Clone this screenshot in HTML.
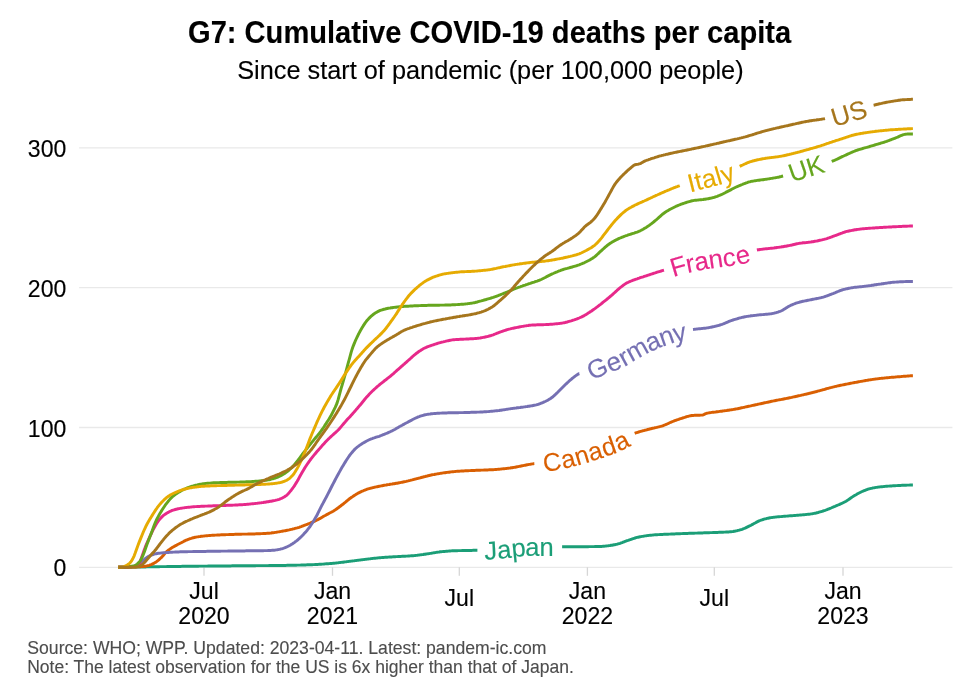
<!DOCTYPE html>
<html><head><meta charset="utf-8"><title>G7: Cumulative COVID-19 deaths per capita</title>
<style>html,body{margin:0;padding:0;background:#fff}body{width:980px;height:700px;position:relative;overflow:hidden;font-family:"Liberation Sans",sans-serif}</style></head>
<body>
<svg width="980" height="700" viewBox="0 0 980 700" style="position:absolute;left:0;top:0;will-change:transform;font-family:'Liberation Sans',sans-serif">
<rect width="980" height="700" fill="#fff"/>
<line x1="79.1" x2="952.4" y1="567.3" y2="567.3" stroke="#e9e9e9" stroke-width="1.3"/>
<line x1="79.1" x2="952.4" y1="427.5" y2="427.5" stroke="#e9e9e9" stroke-width="1.3"/>
<line x1="79.1" x2="952.4" y1="287.7" y2="287.7" stroke="#e9e9e9" stroke-width="1.3"/>
<line x1="79.1" x2="952.4" y1="147.9" y2="147.9" stroke="#e9e9e9" stroke-width="1.3"/>
<line x1="204" x2="204" y1="567.3" y2="575.8" stroke="#d6d6d6" stroke-width="1.3"/>
<line x1="332.5" x2="332.5" y1="567.3" y2="575.8" stroke="#d6d6d6" stroke-width="1.3"/>
<line x1="459.3" x2="459.3" y1="567.3" y2="575.8" stroke="#d6d6d6" stroke-width="1.3"/>
<line x1="587.4" x2="587.4" y1="567.3" y2="575.8" stroke="#d6d6d6" stroke-width="1.3"/>
<line x1="714.3" x2="714.3" y1="567.3" y2="575.8" stroke="#d6d6d6" stroke-width="1.3"/>
<line x1="843" x2="843" y1="567.3" y2="575.8" stroke="#d6d6d6" stroke-width="1.3"/>
<path d="M118.2 567.3 L119.2 567.3 L120.2 567.3 L121.2 567.2 L122.2 567.2 L123.2 567.2 L124.2 567.2 L125.2 567.2 L126.2 567.2 L127.2 567.1 L128.2 567.1 L129.2 567.1 L130.2 567.1 L131.2 567.1 L132.2 567.1 L133.2 567.1 L134.2 567 L135.2 567 L136.2 567 L137.2 567 L138.2 567 L139.2 567 L140.2 566.9 L141.2 566.9 L142.2 566.9 L143.2 566.9 L144.2 566.9 L145.2 566.9 L146.2 566.9 L147.2 566.8 L148.2 566.8 L149.2 566.8 L150.2 566.8 L151.2 566.8 L152.2 566.8 L153.2 566.7 L154.2 566.7 L155.2 566.7 L156.2 566.7 L157.2 566.7 L158.2 566.7 L159.2 566.7 L160.2 566.6 L161.2 566.6 L162.2 566.6 L163.2 566.6 L164.2 566.6 L165.2 566.6 L166.2 566.6 L167.2 566.5 L168.2 566.5 L169.2 566.5 L170.2 566.5 L171.2 566.5 L172.2 566.5 L173.2 566.5 L174.2 566.4 L175.2 566.4 L176.2 566.4 L177.2 566.4 L178.2 566.4 L179.2 566.4 L180.2 566.4 L181.2 566.4 L182.2 566.3 L183.2 566.3 L184.2 566.3 L185.2 566.3 L186.2 566.3 L187.2 566.3 L188.2 566.3 L189.2 566.3 L190.2 566.2 L191.2 566.2 L192.2 566.2 L193.2 566.2 L194.2 566.2 L195.2 566.2 L196.2 566.2 L197.2 566.2 L198.2 566.2 L199.2 566.1 L200.2 566.1 L201.2 566.1 L202.2 566.1 L203.2 566.1 L204.2 566.1 L205.2 566.1 L206.2 566.1 L207.2 566.1 L208.2 566 L209.2 566 L210.2 566 L211.2 566 L212.2 566 L213.2 566 L214.2 566 L215.2 566 L216.2 566 L217.2 566 L218.2 566 L219.2 566 L220.2 565.9 L221.2 565.9 L222.2 565.9 L223.2 565.9 L224.2 565.9 L225.2 565.9 L226.2 565.9 L227.2 565.9 L228.2 565.9 L229.2 565.9 L230.2 565.9 L231.2 565.9 L232.2 565.8 L233.2 565.8 L234.2 565.8 L235.2 565.8 L236.2 565.8 L237.2 565.8 L238.2 565.8 L239.2 565.8 L240.2 565.8 L241.2 565.8 L242.2 565.8 L243.2 565.8 L244.2 565.7 L245.2 565.7 L246.2 565.7 L247.2 565.7 L248.2 565.7 L249.2 565.7 L250.2 565.7 L251.2 565.7 L252.2 565.7 L253.2 565.7 L254.2 565.7 L255.2 565.7 L256.2 565.6 L257.2 565.6 L258.2 565.6 L259.2 565.6 L260.2 565.6 L261.2 565.6 L262.2 565.6 L263.2 565.6 L264.2 565.6 L265.2 565.6 L266.2 565.6 L267.2 565.6 L268.2 565.6 L269.2 565.5 L270.2 565.5 L271.2 565.5 L272.2 565.5 L273.2 565.5 L274.2 565.5 L275.2 565.5 L276.2 565.5 L277.2 565.5 L278.2 565.5 L279.2 565.4 L280.2 565.4 L281.2 565.4 L282.2 565.4 L283.2 565.4 L284.2 565.4 L285.2 565.4 L286.2 565.4 L287.2 565.3 L288.2 565.3 L289.2 565.3 L290.2 565.3 L291.2 565.3 L292.2 565.2 L293.2 565.2 L294.2 565.2 L295.2 565.2 L296.2 565.2 L297.2 565.1 L298.2 565.1 L299.2 565.1 L300.2 565.1 L301.2 565 L302.2 565 L303.2 565 L304.2 564.9 L305.2 564.9 L306.2 564.9 L307.2 564.8 L308.2 564.8 L309.2 564.8 L310.2 564.7 L311.2 564.7 L312.2 564.7 L313.2 564.6 L314.2 564.6 L315.2 564.5 L316.2 564.5 L317.2 564.4 L318.2 564.4 L319.2 564.3 L320.2 564.3 L321.2 564.2 L322.2 564.1 L323.2 564.1 L324.2 564 L325.2 563.9 L326.2 563.8 L327.2 563.8 L328.2 563.7 L329.2 563.6 L330.2 563.5 L331.2 563.4 L332.2 563.4 L333.2 563.3 L334.2 563.2 L335.2 563.1 L336.2 563 L337.2 562.9 L338.2 562.8 L339.2 562.6 L340.2 562.5 L341.2 562.4 L342.2 562.3 L343.2 562.2 L344.2 562 L345.2 561.9 L346.2 561.8 L347.2 561.6 L348.2 561.5 L349.2 561.4 L350.2 561.2 L351.2 561.1 L352.2 561 L353.2 560.9 L354.2 560.8 L355.2 560.6 L356.2 560.5 L357.2 560.4 L358.2 560.2 L359.2 560.1 L360.2 560 L361.2 559.9 L362.2 559.7 L363.2 559.6 L364.2 559.5 L365.2 559.4 L366.2 559.2 L367.2 559.1 L368.2 559 L369.2 558.9 L370.2 558.8 L371.2 558.6 L372.2 558.5 L373.2 558.4 L374.2 558.3 L375.2 558.2 L376.2 558.1 L377.2 558 L378.2 557.9 L379.2 557.8 L380.2 557.7 L381.2 557.6 L382.2 557.5 L383.2 557.4 L384.2 557.4 L385.2 557.3 L386.2 557.2 L387.2 557.2 L388.2 557.1 L389.2 557 L390.2 557 L391.2 556.9 L392.2 556.9 L393.2 556.8 L394.2 556.7 L395.2 556.7 L396.2 556.6 L397.2 556.6 L398.2 556.5 L399.2 556.5 L400.2 556.4 L401.2 556.4 L402.2 556.3 L403.2 556.3 L404.2 556.2 L405.2 556.2 L406.2 556.1 L407.2 556.1 L408.2 556 L409.2 556 L410.2 555.9 L411.2 555.8 L412.2 555.8 L413.2 555.7 L414.2 555.6 L415.2 555.5 L416.2 555.4 L417.2 555.3 L418.2 555.1 L419.2 555 L420.2 554.9 L421.2 554.7 L422.2 554.6 L423.2 554.5 L424.2 554.3 L425.2 554.2 L426.2 554 L427.2 553.9 L428.2 553.7 L429.2 553.6 L430.2 553.4 L431.2 553.3 L432.2 553.1 L433.2 552.9 L434.2 552.7 L435.2 552.6 L436.2 552.4 L437.2 552.2 L438.2 552.1 L439.2 552 L440.2 551.8 L441.2 551.7 L442.2 551.6 L443.2 551.5 L444.2 551.4 L445.2 551.4 L446.2 551.3 L447.2 551.2 L448.2 551.1 L449.2 551 L450.2 551 L451.2 550.9 L452.2 550.8 L453.2 550.8 L454.2 550.8 L455.2 550.7 L456.2 550.7 L457.2 550.7 L458.2 550.6 L459.2 550.6 L460.2 550.6 L461.2 550.6 L462.2 550.5 L463.2 550.5 L464.2 550.5 L465.2 550.5 L466.2 550.4 L467.2 550.4 L468.2 550.4 L469.2 550.4 L470.2 550.4 L471.2 550.4 L472.2 550.4 L473.2 550.3 L474.2 550.3 L475.2 550.3 L476.2 550.3 L477.2 550.3 L477.4 550.3 M562.1 546.7 L563.1 546.7 L564.1 546.7 L565.1 546.7 L566.1 546.7 L567.1 546.7 L568.1 546.7 L569.1 546.7 L570.1 546.7 L571.1 546.7 L572.1 546.7 L573.1 546.7 L574.1 546.7 L575.1 546.7 L576.1 546.7 L577.1 546.7 L578.1 546.7 L579.1 546.7 L580.1 546.7 L581.1 546.7 L582.1 546.7 L583.1 546.7 L584.1 546.7 L585.1 546.7 L586.1 546.7 L587.1 546.7 L588.1 546.7 L589.1 546.6 L590.1 546.6 L591.1 546.6 L592.1 546.6 L593.1 546.6 L594.1 546.6 L595.1 546.5 L596.1 546.5 L597.1 546.5 L598.1 546.5 L599.1 546.5 L600.1 546.4 L601.1 546.4 L602.1 546.4 L603.1 546.3 L604.1 546.2 L605.1 546.1 L606.1 546 L607.1 545.9 L608.1 545.8 L609.1 545.6 L610.1 545.5 L611.1 545.3 L612.1 545.2 L613.1 545 L614.1 544.8 L615.1 544.7 L616.1 544.4 L617.1 544.2 L618.1 543.9 L619.1 543.6 L620.1 543.3 L621.1 542.9 L622.1 542.6 L623.1 542.2 L624.1 541.8 L625.1 541.4 L626.1 541 L627.1 540.7 L628.1 540.4 L629.1 540 L630.1 539.7 L631.1 539.3 L632.1 539 L633.1 538.6 L634.1 538.3 L635.1 538 L636.1 537.7 L637.1 537.4 L638.1 537.2 L639.1 537 L640.1 536.8 L641.1 536.6 L642.1 536.4 L643.1 536.3 L644.1 536.1 L645.1 535.9 L646.1 535.8 L647.1 535.6 L648.1 535.5 L649.1 535.4 L650.1 535.3 L651.1 535.2 L652.1 535.1 L653.1 535 L654.1 534.9 L655.1 534.8 L656.1 534.8 L657.1 534.7 L658.1 534.6 L659.1 534.6 L660.1 534.5 L661.1 534.5 L662.1 534.4 L663.1 534.4 L664.1 534.3 L665.1 534.3 L666.1 534.2 L667.1 534.2 L668.1 534.2 L669.1 534.1 L670.1 534.1 L671.1 534 L672.1 534 L673.1 534 L674.1 533.9 L675.1 533.9 L676.1 533.8 L677.1 533.8 L678.1 533.7 L679.1 533.7 L680.1 533.7 L681.1 533.6 L682.1 533.6 L683.1 533.5 L684.1 533.5 L685.1 533.5 L686.1 533.4 L687.1 533.4 L688.1 533.4 L689.1 533.3 L690.1 533.3 L691.1 533.3 L692.1 533.2 L693.1 533.2 L694.1 533.2 L695.1 533.1 L696.1 533.1 L697.1 533.1 L698.1 533 L699.1 533 L700.1 533 L701.1 532.9 L702.1 532.9 L703.1 532.9 L704.1 532.8 L705.1 532.8 L706.1 532.8 L707.1 532.7 L708.1 532.7 L709.1 532.7 L710.1 532.6 L711.1 532.6 L712.1 532.6 L713.1 532.5 L714.1 532.5 L715.1 532.5 L716.1 532.4 L717.1 532.4 L718.1 532.4 L719.1 532.3 L720.1 532.3 L721.1 532.3 L722.1 532.2 L723.1 532.2 L724.1 532.1 L725.1 532.1 L726.1 532 L727.1 532 L728.1 531.9 L729.1 531.9 L730.1 531.8 L731.1 531.7 L732.1 531.6 L733.1 531.5 L734.1 531.3 L735.1 531.2 L736.1 530.9 L737.1 530.7 L738.1 530.4 L739.1 530.2 L740.1 529.9 L741.1 529.6 L742.1 529.3 L743.1 528.9 L744.1 528.5 L745.1 528.1 L746.1 527.6 L747.1 527.1 L748.1 526.6 L749.1 526.1 L750.1 525.7 L751.1 525.2 L752.1 524.6 L753.1 524.1 L754.1 523.5 L755.1 523 L756.1 522.4 L757.1 521.9 L758.1 521.4 L759.1 520.9 L760.1 520.5 L761.1 520.1 L762.1 519.8 L763.1 519.5 L764.1 519.2 L765.1 518.9 L766.1 518.7 L767.1 518.4 L768.1 518.2 L769.1 518 L770.1 517.8 L771.1 517.6 L772.1 517.5 L773.1 517.4 L774.1 517.2 L775.1 517.1 L776.1 517 L777.1 516.9 L778.1 516.8 L779.1 516.7 L780.1 516.6 L781.1 516.6 L782.1 516.5 L783.1 516.4 L784.1 516.3 L785.1 516.2 L786.1 516.1 L787.1 516.1 L788.1 516 L789.1 515.9 L790.1 515.8 L791.1 515.8 L792.1 515.7 L793.1 515.6 L794.1 515.5 L795.1 515.5 L796.1 515.4 L797.1 515.3 L798.1 515.2 L799.1 515.1 L800.1 515 L801.1 515 L802.1 514.9 L803.1 514.8 L804.1 514.7 L805.1 514.6 L806.1 514.5 L807.1 514.4 L808.1 514.3 L809.1 514.2 L810.1 514.1 L811.1 513.9 L812.1 513.8 L813.1 513.6 L814.1 513.4 L815.1 513.2 L816.1 513 L817.1 512.7 L818.1 512.5 L819.1 512.2 L820.1 511.9 L821.1 511.6 L822.1 511.3 L823.1 511 L824.1 510.7 L825.1 510.4 L826.1 510 L827.1 509.6 L828.1 509.2 L829.1 508.8 L830.1 508.4 L831.1 508 L832.1 507.5 L833.1 507.1 L834.1 506.7 L835.1 506.3 L836.1 505.8 L837.1 505.4 L838.1 505 L839.1 504.6 L840.1 504.1 L841.1 503.7 L842.1 503.2 L843.1 502.7 L844.1 502.2 L845.1 501.7 L846.1 501.2 L847.1 500.6 L848.1 499.9 L849.1 499.2 L850.1 498.5 L851.1 497.8 L852.1 497.1 L853.1 496.4 L854.1 495.8 L855.1 495.2 L856.1 494.7 L857.1 494.1 L858.1 493.5 L859.1 493 L860.1 492.5 L861.1 492 L862.1 491.5 L863.1 491.1 L864.1 490.7 L865.1 490.3 L866.1 489.9 L867.1 489.5 L868.1 489.2 L869.1 488.9 L870.1 488.6 L871.1 488.4 L872.1 488.2 L873.1 487.9 L874.1 487.8 L875.1 487.6 L876.1 487.4 L877.1 487.3 L878.1 487.1 L879.1 487 L880.1 486.9 L881.1 486.8 L882.1 486.7 L883.1 486.6 L884.1 486.5 L885.1 486.4 L886.1 486.3 L887.1 486.2 L888.1 486.1 L889.1 486.1 L890.1 486 L891.1 485.9 L892.1 485.9 L893.1 485.8 L894.1 485.8 L895.1 485.7 L896.1 485.6 L897.1 485.6 L898.1 485.5 L899.1 485.5 L900.1 485.4 L901.1 485.4 L902.1 485.3 L903.1 485.3 L904.1 485.2 L905.1 485.2 L906.1 485.2 L907.1 485.1 L908.1 485.1 L909.1 485.1 L910.1 485 L911.1 485 L912.1 485 L912.9 485" fill="none" stroke="#1B9E77" stroke-width="2.95" stroke-linejoin="round"/>
<path d="M118.2 567.3 L119.2 567.3 L120.2 567.3 L121.2 567.3 L122.2 567.3 L123.2 567.3 L124.2 567.2 L125.2 567.2 L126.2 567.2 L127.2 567.2 L128.2 567.1 L129.2 567.1 L130.2 567.1 L131.2 567.1 L132.2 567 L133.2 567 L134.2 566.9 L135.2 566.9 L136.2 566.9 L137.2 566.8 L138.2 566.8 L139.2 566.7 L140.2 566.7 L141.2 566.6 L142.2 566.6 L143.2 566.5 L144.2 566.4 L145.2 566.3 L146.2 566.1 L147.2 565.8 L148.2 565.6 L149.2 565.3 L150.2 564.9 L151.2 564.6 L152.2 564.1 L153.2 563.6 L154.2 563.1 L155.2 562.5 L156.2 561.9 L157.2 561.1 L158.2 560.3 L159.2 559.5 L160.2 558.5 L161.2 557.6 L162.2 556.6 L163.2 555.5 L164.2 554.3 L165.2 553.1 L166.2 552 L167.2 551.1 L168.2 550.3 L169.2 549.6 L170.2 548.9 L171.2 548.2 L172.2 547.6 L173.2 547 L174.2 546.4 L175.2 545.9 L176.2 545.4 L177.2 544.8 L178.2 544.3 L179.2 543.8 L180.2 543.3 L181.2 542.8 L182.2 542.2 L183.2 541.7 L184.2 541.1 L185.2 540.6 L186.2 540.2 L187.2 539.8 L188.2 539.4 L189.2 539 L190.2 538.7 L191.2 538.4 L192.2 538 L193.2 537.8 L194.2 537.5 L195.2 537.3 L196.2 537.1 L197.2 536.9 L198.2 536.8 L199.2 536.6 L200.2 536.5 L201.2 536.3 L202.2 536.2 L203.2 536.1 L204.2 536 L205.2 535.9 L206.2 535.8 L207.2 535.7 L208.2 535.6 L209.2 535.5 L210.2 535.5 L211.2 535.4 L212.2 535.3 L213.2 535.3 L214.2 535.2 L215.2 535.1 L216.2 535.1 L217.2 535 L218.2 535 L219.2 534.9 L220.2 534.9 L221.2 534.8 L222.2 534.8 L223.2 534.7 L224.2 534.7 L225.2 534.7 L226.2 534.6 L227.2 534.6 L228.2 534.6 L229.2 534.5 L230.2 534.5 L231.2 534.4 L232.2 534.4 L233.2 534.4 L234.2 534.4 L235.2 534.3 L236.2 534.3 L237.2 534.3 L238.2 534.2 L239.2 534.2 L240.2 534.2 L241.2 534.2 L242.2 534.1 L243.2 534.1 L244.2 534.1 L245.2 534.1 L246.2 534.1 L247.2 534.1 L248.2 534 L249.2 534 L250.2 534 L251.2 534 L252.2 534 L253.2 533.9 L254.2 533.9 L255.2 533.9 L256.2 533.8 L257.2 533.8 L258.2 533.8 L259.2 533.7 L260.2 533.7 L261.2 533.6 L262.2 533.6 L263.2 533.5 L264.2 533.5 L265.2 533.4 L266.2 533.4 L267.2 533.3 L268.2 533.2 L269.2 533.2 L270.2 533.1 L271.2 533 L272.2 532.8 L273.2 532.7 L274.2 532.6 L275.2 532.4 L276.2 532.3 L277.2 532.1 L278.2 531.9 L279.2 531.8 L280.2 531.6 L281.2 531.4 L282.2 531.2 L283.2 531 L284.2 530.9 L285.2 530.7 L286.2 530.5 L287.2 530.3 L288.2 530.1 L289.2 529.9 L290.2 529.6 L291.2 529.4 L292.2 529.2 L293.2 528.9 L294.2 528.7 L295.2 528.4 L296.2 528.1 L297.2 527.9 L298.2 527.6 L299.2 527.3 L300.2 526.9 L301.2 526.6 L302.2 526.2 L303.2 525.8 L304.2 525.4 L305.2 525 L306.2 524.7 L307.2 524.3 L308.2 523.9 L309.2 523.5 L310.2 523.1 L311.2 522.6 L312.2 522.2 L313.2 521.8 L314.2 521.4 L315.2 520.9 L316.2 520.4 L317.2 520 L318.2 519.4 L319.2 518.9 L320.2 518.4 L321.2 517.8 L322.2 517.2 L323.2 516.6 L324.2 516 L325.2 515.5 L326.2 514.9 L327.2 514.4 L328.2 513.9 L329.2 513.3 L330.2 512.8 L331.2 512.3 L332.2 511.7 L333.2 511.2 L334.2 510.6 L335.2 509.9 L336.2 509.2 L337.2 508.5 L338.2 507.8 L339.2 507 L340.2 506.3 L341.2 505.5 L342.2 504.7 L343.2 504 L344.2 503.2 L345.2 502.4 L346.2 501.5 L347.2 500.7 L348.2 499.8 L349.2 499 L350.2 498.3 L351.2 497.5 L352.2 496.9 L353.2 496.2 L354.2 495.5 L355.2 494.9 L356.2 494.3 L357.2 493.7 L358.2 493.1 L359.2 492.6 L360.2 492.1 L361.2 491.6 L362.2 491.2 L363.2 490.8 L364.2 490.3 L365.2 490 L366.2 489.6 L367.2 489.2 L368.2 488.9 L369.2 488.6 L370.2 488.3 L371.2 488.1 L372.2 487.8 L373.2 487.6 L374.2 487.3 L375.2 487.1 L376.2 486.9 L377.2 486.7 L378.2 486.5 L379.2 486.3 L380.2 486.1 L381.2 485.9 L382.2 485.7 L383.2 485.5 L384.2 485.3 L385.2 485.1 L386.2 485 L387.2 484.8 L388.2 484.6 L389.2 484.5 L390.2 484.3 L391.2 484.1 L392.2 484 L393.2 483.8 L394.2 483.7 L395.2 483.5 L396.2 483.3 L397.2 483.2 L398.2 483 L399.2 482.8 L400.2 482.6 L401.2 482.4 L402.2 482.2 L403.2 482 L404.2 481.8 L405.2 481.6 L406.2 481.4 L407.2 481.1 L408.2 480.9 L409.2 480.6 L410.2 480.4 L411.2 480.1 L412.2 479.9 L413.2 479.6 L414.2 479.3 L415.2 479.1 L416.2 478.8 L417.2 478.6 L418.2 478.3 L419.2 478.1 L420.2 477.8 L421.2 477.5 L422.2 477.3 L423.2 477 L424.2 476.7 L425.2 476.5 L426.2 476.2 L427.2 476 L428.2 475.7 L429.2 475.5 L430.2 475.3 L431.2 475 L432.2 474.8 L433.2 474.6 L434.2 474.5 L435.2 474.3 L436.2 474.1 L437.2 473.9 L438.2 473.7 L439.2 473.6 L440.2 473.4 L441.2 473.2 L442.2 473.1 L443.2 472.9 L444.2 472.8 L445.2 472.7 L446.2 472.5 L447.2 472.4 L448.2 472.3 L449.2 472.2 L450.2 472 L451.2 471.9 L452.2 471.8 L453.2 471.7 L454.2 471.6 L455.2 471.5 L456.2 471.4 L457.2 471.3 L458.2 471.2 L459.2 471.2 L460.2 471.1 L461.2 471 L462.2 471 L463.2 470.9 L464.2 470.9 L465.2 470.8 L466.2 470.8 L467.2 470.7 L468.2 470.7 L469.2 470.6 L470.2 470.6 L471.2 470.5 L472.2 470.5 L473.2 470.5 L474.2 470.4 L475.2 470.4 L476.2 470.3 L477.2 470.3 L478.2 470.3 L479.2 470.2 L480.2 470.2 L481.2 470.1 L482.2 470.1 L483.2 470.1 L484.2 470 L485.2 470 L486.2 470 L487.2 469.9 L488.2 469.9 L489.2 469.8 L490.2 469.8 L491.2 469.8 L492.2 469.7 L493.2 469.7 L494.2 469.6 L495.2 469.5 L496.2 469.5 L497.2 469.4 L498.2 469.3 L499.2 469.2 L500.2 469.1 L501.2 469 L502.2 468.9 L503.2 468.8 L504.2 468.7 L505.2 468.6 L506.2 468.5 L507.2 468.4 L508.2 468.2 L509.2 468.1 L510.2 468 L511.2 467.8 L512.2 467.7 L513.2 467.5 L514.2 467.4 L515.2 467.2 L516.2 467 L517.2 466.8 L518.2 466.6 L519.2 466.4 L520.2 466.2 L521.2 466 L522.2 465.8 L523.2 465.6 L524.2 465.4 L525.2 465.2 L526.2 465 L527.2 464.8 L528.2 464.6 L529.2 464.4 L530.2 464.3 L531.2 464.1 L532.2 463.9 L533.2 463.8 L534.2 463.6 L534.3 463.6 M634.7 433.3 L635.7 432.9 L636.7 432.6 L637.7 432.3 L638.7 432 L639.7 431.7 L640.7 431.4 L641.7 431.1 L642.7 430.8 L643.7 430.6 L644.7 430.3 L645.7 430.1 L646.7 429.8 L647.7 429.5 L648.7 429.3 L649.7 429 L650.7 428.8 L651.7 428.5 L652.7 428.3 L653.7 428.1 L654.7 427.8 L655.7 427.6 L656.7 427.4 L657.7 427.1 L658.7 426.9 L659.7 426.6 L660.7 426.4 L661.7 426.1 L662.7 425.8 L663.7 425.4 L664.7 425 L665.7 424.6 L666.7 424.2 L667.7 423.7 L668.7 423.3 L669.7 422.8 L670.7 422.3 L671.7 421.9 L672.7 421.5 L673.7 421.1 L674.7 420.7 L675.7 420.3 L676.7 420 L677.7 419.6 L678.7 419.3 L679.7 418.9 L680.7 418.6 L681.7 418.3 L682.7 418 L683.7 417.7 L684.7 417.4 L685.7 417 L686.7 416.7 L687.7 416.4 L688.7 416.2 L689.7 415.9 L690.7 415.7 L691.7 415.5 L692.7 415.4 L693.7 415.4 L694.7 415.3 L695.7 415.3 L696.7 415.2 L697.7 415.2 L698.7 415.2 L699.7 415.2 L700.7 415.1 L701.7 415.1 L702.7 415 L703.7 414.7 L704.7 414.1 L705.7 413.6 L706.7 413.3 L707.7 413.1 L708.7 412.9 L709.7 412.7 L710.7 412.6 L711.7 412.4 L712.7 412.3 L713.7 412.2 L714.7 412.1 L715.7 412 L716.7 411.8 L717.7 411.7 L718.7 411.6 L719.7 411.4 L720.7 411.3 L721.7 411.2 L722.7 411 L723.7 410.9 L724.7 410.7 L725.7 410.6 L726.7 410.5 L727.7 410.3 L728.7 410.2 L729.7 410 L730.7 409.9 L731.7 409.7 L732.7 409.6 L733.7 409.4 L734.7 409.2 L735.7 409 L736.7 408.9 L737.7 408.7 L738.7 408.5 L739.7 408.3 L740.7 408 L741.7 407.8 L742.7 407.6 L743.7 407.4 L744.7 407.2 L745.7 406.9 L746.7 406.7 L747.7 406.5 L748.7 406.3 L749.7 406.1 L750.7 405.9 L751.7 405.6 L752.7 405.4 L753.7 405.2 L754.7 405 L755.7 404.8 L756.7 404.6 L757.7 404.3 L758.7 404.1 L759.7 403.9 L760.7 403.7 L761.7 403.5 L762.7 403.3 L763.7 403 L764.7 402.8 L765.7 402.6 L766.7 402.4 L767.7 402.2 L768.7 402 L769.7 401.8 L770.7 401.5 L771.7 401.3 L772.7 401.1 L773.7 400.9 L774.7 400.7 L775.7 400.5 L776.7 400.3 L777.7 400.1 L778.7 399.9 L779.7 399.7 L780.7 399.6 L781.7 399.4 L782.7 399.2 L783.7 399 L784.7 398.8 L785.7 398.6 L786.7 398.4 L787.7 398.2 L788.7 398 L789.7 397.8 L790.7 397.6 L791.7 397.4 L792.7 397.1 L793.7 396.9 L794.7 396.7 L795.7 396.5 L796.7 396.3 L797.7 396 L798.7 395.8 L799.7 395.6 L800.7 395.4 L801.7 395.1 L802.7 394.9 L803.7 394.7 L804.7 394.4 L805.7 394.2 L806.7 394 L807.7 393.7 L808.7 393.5 L809.7 393.2 L810.7 393 L811.7 392.7 L812.7 392.5 L813.7 392.2 L814.7 392 L815.7 391.7 L816.7 391.5 L817.7 391.2 L818.7 390.9 L819.7 390.7 L820.7 390.4 L821.7 390.1 L822.7 389.8 L823.7 389.6 L824.7 389.3 L825.7 389 L826.7 388.7 L827.7 388.4 L828.7 388.2 L829.7 387.9 L830.7 387.6 L831.7 387.4 L832.7 387.1 L833.7 386.9 L834.7 386.6 L835.7 386.4 L836.7 386.2 L837.7 385.9 L838.7 385.7 L839.7 385.5 L840.7 385.3 L841.7 385.1 L842.7 384.9 L843.7 384.7 L844.7 384.5 L845.7 384.3 L846.7 384.1 L847.7 383.9 L848.7 383.7 L849.7 383.5 L850.7 383.3 L851.7 383.1 L852.7 382.9 L853.7 382.7 L854.7 382.5 L855.7 382.4 L856.7 382.2 L857.7 382 L858.7 381.8 L859.7 381.6 L860.7 381.4 L861.7 381.3 L862.7 381.1 L863.7 380.9 L864.7 380.7 L865.7 380.5 L866.7 380.4 L867.7 380.2 L868.7 380 L869.7 379.9 L870.7 379.7 L871.7 379.6 L872.7 379.4 L873.7 379.3 L874.7 379.1 L875.7 379 L876.7 378.9 L877.7 378.8 L878.7 378.6 L879.7 378.5 L880.7 378.4 L881.7 378.3 L882.7 378.2 L883.7 378.1 L884.7 378 L885.7 377.9 L886.7 377.8 L887.7 377.7 L888.7 377.6 L889.7 377.5 L890.7 377.4 L891.7 377.3 L892.7 377.3 L893.7 377.2 L894.7 377.1 L895.7 377 L896.7 376.9 L897.7 376.8 L898.7 376.7 L899.7 376.7 L900.7 376.6 L901.7 376.5 L902.7 376.4 L903.7 376.3 L904.7 376.3 L905.7 376.2 L906.7 376.1 L907.7 376 L908.7 376 L909.7 375.9 L910.7 375.8 L911.7 375.8 L912.7 375.7 L912.9 375.7" fill="none" stroke="#D95F02" stroke-width="2.95" stroke-linejoin="round"/>
<path d="M118.2 567.3 L119.2 567.3 L120.2 567.3 L121.2 567.3 L122.2 567.3 L123.2 567.2 L124.2 567.2 L125.2 567.1 L126.2 567.1 L127.2 567 L128.2 567 L129.2 566.9 L130.2 566.8 L131.2 566.8 L132.2 566.7 L133.2 566.6 L134.2 566.5 L135.2 566.2 L136.2 565.9 L137.2 565.4 L138.2 564.9 L139.2 564.2 L140.2 563.3 L141.2 562.4 L142.2 561.5 L143.2 560.5 L144.2 559.5 L145.2 558.6 L146.2 557.9 L147.2 557.2 L148.2 556.6 L149.2 556.1 L150.2 555.6 L151.2 555.2 L152.2 554.8 L153.2 554.5 L154.2 554.2 L155.2 553.9 L156.2 553.7 L157.2 553.5 L158.2 553.3 L159.2 553.2 L160.2 553.1 L161.2 553 L162.2 552.9 L163.2 552.8 L164.2 552.7 L165.2 552.6 L166.2 552.6 L167.2 552.5 L168.2 552.4 L169.2 552.4 L170.2 552.3 L171.2 552.2 L172.2 552.2 L173.2 552.1 L174.2 552.1 L175.2 552 L176.2 552 L177.2 551.9 L178.2 551.9 L179.2 551.9 L180.2 551.8 L181.2 551.8 L182.2 551.8 L183.2 551.8 L184.2 551.7 L185.2 551.7 L186.2 551.7 L187.2 551.7 L188.2 551.6 L189.2 551.6 L190.2 551.6 L191.2 551.6 L192.2 551.6 L193.2 551.5 L194.2 551.5 L195.2 551.5 L196.2 551.5 L197.2 551.5 L198.2 551.5 L199.2 551.5 L200.2 551.4 L201.2 551.4 L202.2 551.4 L203.2 551.4 L204.2 551.4 L205.2 551.4 L206.2 551.4 L207.2 551.3 L208.2 551.3 L209.2 551.3 L210.2 551.3 L211.2 551.3 L212.2 551.3 L213.2 551.3 L214.2 551.2 L215.2 551.2 L216.2 551.2 L217.2 551.2 L218.2 551.2 L219.2 551.2 L220.2 551.2 L221.2 551.1 L222.2 551.1 L223.2 551.1 L224.2 551.1 L225.2 551.1 L226.2 551.1 L227.2 551.1 L228.2 551 L229.2 551 L230.2 551 L231.2 551 L232.2 551 L233.2 551 L234.2 551 L235.2 551 L236.2 550.9 L237.2 550.9 L238.2 550.9 L239.2 550.9 L240.2 550.9 L241.2 550.9 L242.2 550.9 L243.2 550.9 L244.2 550.9 L245.2 550.9 L246.2 550.8 L247.2 550.8 L248.2 550.8 L249.2 550.8 L250.2 550.8 L251.2 550.8 L252.2 550.8 L253.2 550.8 L254.2 550.8 L255.2 550.8 L256.2 550.8 L257.2 550.8 L258.2 550.7 L259.2 550.7 L260.2 550.7 L261.2 550.7 L262.2 550.7 L263.2 550.7 L264.2 550.6 L265.2 550.6 L266.2 550.6 L267.2 550.6 L268.2 550.5 L269.2 550.5 L270.2 550.4 L271.2 550.4 L272.2 550.3 L273.2 550.3 L274.2 550.2 L275.2 550.1 L276.2 549.9 L277.2 549.8 L278.2 549.6 L279.2 549.4 L280.2 549.2 L281.2 548.9 L282.2 548.7 L283.2 548.4 L284.2 548 L285.2 547.6 L286.2 547.2 L287.2 546.7 L288.2 546.2 L289.2 545.7 L290.2 545.2 L291.2 544.6 L292.2 544 L293.2 543.3 L294.2 542.6 L295.2 541.8 L296.2 541.1 L297.2 540.3 L298.2 539.5 L299.2 538.6 L300.2 537.7 L301.2 536.7 L302.2 535.7 L303.2 534.7 L304.2 533.6 L305.2 532.5 L306.2 531.4 L307.2 530.2 L308.2 528.9 L309.2 527.6 L310.2 526.3 L311.2 524.8 L312.2 523.3 L313.2 521.7 L314.2 520 L315.2 518.3 L316.2 516.6 L317.2 514.7 L318.2 512.7 L319.2 510.7 L320.2 508.7 L321.2 506.7 L322.2 504.7 L323.2 502.9 L324.2 501 L325.2 499.1 L326.2 497.3 L327.2 495.4 L328.2 493.4 L329.2 491.5 L330.2 489.5 L331.2 487.5 L332.2 485.5 L333.2 483.6 L334.2 481.7 L335.2 479.8 L336.2 477.9 L337.2 476 L338.2 474.2 L339.2 472.4 L340.2 470.6 L341.2 468.8 L342.2 467.1 L343.2 465.4 L344.2 463.7 L345.2 462.1 L346.2 460.5 L347.2 459 L348.2 457.5 L349.2 456 L350.2 454.7 L351.2 453.4 L352.2 452.2 L353.2 451 L354.2 449.9 L355.2 448.9 L356.2 448 L357.2 447.1 L358.2 446.4 L359.2 445.6 L360.2 444.9 L361.2 444.3 L362.2 443.6 L363.2 443 L364.2 442.4 L365.2 441.9 L366.2 441.3 L367.2 440.8 L368.2 440.3 L369.2 439.8 L370.2 439.3 L371.2 438.9 L372.2 438.6 L373.2 438.2 L374.2 437.9 L375.2 437.5 L376.2 437.2 L377.2 436.9 L378.2 436.6 L379.2 436.3 L380.2 435.9 L381.2 435.5 L382.2 435.1 L383.2 434.7 L384.2 434.3 L385.2 433.9 L386.2 433.5 L387.2 433.1 L388.2 432.6 L389.2 432.2 L390.2 431.7 L391.2 431.2 L392.2 430.8 L393.2 430.2 L394.2 429.7 L395.2 429.2 L396.2 428.6 L397.2 428 L398.2 427.4 L399.2 426.8 L400.2 426.3 L401.2 425.7 L402.2 425.2 L403.2 424.6 L404.2 424.1 L405.2 423.5 L406.2 423 L407.2 422.5 L408.2 421.9 L409.2 421.4 L410.2 420.9 L411.2 420.4 L412.2 419.8 L413.2 419.3 L414.2 418.8 L415.2 418.3 L416.2 417.8 L417.2 417.4 L418.2 416.9 L419.2 416.6 L420.2 416.2 L421.2 415.9 L422.2 415.6 L423.2 415.3 L424.2 415 L425.2 414.8 L426.2 414.6 L427.2 414.4 L428.2 414.2 L429.2 414.1 L430.2 414 L431.2 413.8 L432.2 413.7 L433.2 413.6 L434.2 413.5 L435.2 413.4 L436.2 413.4 L437.2 413.3 L438.2 413.2 L439.2 413.2 L440.2 413.1 L441.2 413.1 L442.2 413 L443.2 413 L444.2 413 L445.2 412.9 L446.2 412.9 L447.2 412.9 L448.2 412.8 L449.2 412.8 L450.2 412.8 L451.2 412.8 L452.2 412.8 L453.2 412.7 L454.2 412.7 L455.2 412.7 L456.2 412.7 L457.2 412.7 L458.2 412.7 L459.2 412.6 L460.2 412.6 L461.2 412.6 L462.2 412.6 L463.2 412.6 L464.2 412.5 L465.2 412.5 L466.2 412.5 L467.2 412.5 L468.2 412.4 L469.2 412.4 L470.2 412.4 L471.2 412.3 L472.2 412.3 L473.2 412.3 L474.2 412.3 L475.2 412.2 L476.2 412.2 L477.2 412.1 L478.2 412.1 L479.2 412.1 L480.2 412 L481.2 412 L482.2 411.9 L483.2 411.9 L484.2 411.8 L485.2 411.8 L486.2 411.7 L487.2 411.6 L488.2 411.6 L489.2 411.5 L490.2 411.4 L491.2 411.3 L492.2 411.2 L493.2 411.1 L494.2 411 L495.2 410.9 L496.2 410.8 L497.2 410.7 L498.2 410.6 L499.2 410.5 L500.2 410.3 L501.2 410.2 L502.2 410 L503.2 409.9 L504.2 409.7 L505.2 409.6 L506.2 409.4 L507.2 409.2 L508.2 409.1 L509.2 408.9 L510.2 408.8 L511.2 408.6 L512.2 408.5 L513.2 408.4 L514.2 408.2 L515.2 408.1 L516.2 408 L517.2 407.8 L518.2 407.7 L519.2 407.6 L520.2 407.5 L521.2 407.3 L522.2 407.2 L523.2 407.1 L524.2 406.9 L525.2 406.8 L526.2 406.6 L527.2 406.5 L528.2 406.3 L529.2 406.2 L530.2 406 L531.2 405.9 L532.2 405.7 L533.2 405.5 L534.2 405.3 L535.2 405.1 L536.2 404.9 L537.2 404.6 L538.2 404.3 L539.2 404 L540.2 403.6 L541.2 403.2 L542.2 402.8 L543.2 402.4 L544.2 401.9 L545.2 401.5 L546.2 401 L547.2 400.5 L548.2 399.9 L549.2 399.3 L550.2 398.7 L551.2 398 L552.2 397.3 L553.2 396.5 L554.2 395.6 L555.2 394.7 L556.2 393.7 L557.2 392.8 L558.2 391.8 L559.2 390.8 L560.2 389.8 L561.2 388.8 L562.2 387.8 L563.2 386.8 L564.2 385.8 L565.2 384.8 L566.2 383.8 L567.2 382.9 L568.2 382 L569.2 381 L570.2 380.1 L571.2 379.3 L572.2 378.4 L573.2 377.7 L574.2 376.9 L575.2 376.1 L576.2 375.4 L577.2 374.7 L578.2 374.1 L579.2 373.6 L579.3 373.6 M693 329.5 L694 329.4 L695 329.2 L696 329.1 L697 329 L698 328.9 L699 328.8 L700 328.7 L701 328.6 L702 328.5 L703 328.4 L704 328.3 L705 328.2 L706 328.1 L707 327.9 L708 327.8 L709 327.6 L710 327.4 L711 327.2 L712 327 L713 326.8 L714 326.6 L715 326.3 L716 326.1 L717 325.8 L718 325.6 L719 325.3 L720 325 L721 324.7 L722 324.4 L723 324 L724 323.6 L725 323.2 L726 322.7 L727 322.3 L728 321.9 L729 321.4 L730 321 L731 320.7 L732 320.3 L733 320 L734 319.7 L735 319.4 L736 319.1 L737 318.8 L738 318.5 L739 318.2 L740 317.9 L741 317.7 L742 317.4 L743 317.2 L744 317 L745 316.8 L746 316.6 L747 316.4 L748 316.3 L749 316.1 L750 316 L751 315.8 L752 315.7 L753 315.6 L754 315.5 L755 315.4 L756 315.3 L757 315.1 L758 315 L759 314.9 L760 314.8 L761 314.7 L762 314.6 L763 314.6 L764 314.5 L765 314.4 L766 314.3 L767 314.2 L768 314.1 L769 314 L770 313.9 L771 313.8 L772 313.6 L773 313.4 L774 313.2 L775 312.9 L776 312.7 L777 312.4 L778 312.1 L779 311.7 L780 311.4 L781 311 L782 310.5 L783 309.9 L784 309.3 L785 308.7 L786 308 L787 307.4 L788 306.8 L789 306.2 L790 305.7 L791 305.2 L792 304.8 L793 304.4 L794 304 L795 303.6 L796 303.2 L797 302.9 L798 302.6 L799 302.3 L800 302 L801 301.8 L802 301.5 L803 301.3 L804 301.1 L805 300.9 L806 300.7 L807 300.5 L808 300.3 L809 300.1 L810 299.9 L811 299.7 L812 299.5 L813 299.3 L814 299.1 L815 298.9 L816 298.7 L817 298.5 L818 298.4 L819 298.1 L820 297.9 L821 297.7 L822 297.4 L823 297.2 L824 296.9 L825 296.5 L826 296.2 L827 295.8 L828 295.5 L829 295.1 L830 294.7 L831 294.3 L832 293.9 L833 293.6 L834 293.2 L835 292.8 L836 292.3 L837 291.9 L838 291.5 L839 291.1 L840 290.7 L841 290.3 L842 290 L843 289.7 L844 289.4 L845 289.2 L846 288.9 L847 288.7 L848 288.5 L849 288.3 L850 288.1 L851 287.9 L852 287.7 L853 287.6 L854 287.4 L855 287.3 L856 287.2 L857 287.1 L858 287 L859 286.9 L860 286.8 L861 286.7 L862 286.6 L863 286.5 L864 286.4 L865 286.2 L866 286.1 L867 286 L868 285.9 L869 285.7 L870 285.6 L871 285.5 L872 285.3 L873 285.2 L874 285 L875 284.8 L876 284.7 L877 284.5 L878 284.4 L879 284.2 L880 284.1 L881 284 L882 283.8 L883 283.7 L884 283.5 L885 283.4 L886 283.2 L887 283.1 L888 282.9 L889 282.8 L890 282.7 L891 282.5 L892 282.4 L893 282.3 L894 282.2 L895 282.1 L896 282.1 L897 282 L898 282 L899 281.9 L900 281.8 L901 281.8 L902 281.7 L903 281.7 L904 281.6 L905 281.6 L906 281.5 L907 281.5 L908 281.5 L909 281.4 L910 281.4 L911 281.4 L912 281.4 L912.9 281.4" fill="none" stroke="#7570B3" stroke-width="2.95" stroke-linejoin="round"/>
<path d="M118.2 567.3 L119.2 567.3 L120.2 567.3 L121.2 567.3 L122.2 567.2 L123.2 567.2 L124.2 567.2 L125.2 567.1 L126.2 567 L127.2 567 L128.2 566.9 L129.2 566.8 L130.2 566.7 L131.2 566.6 L132.2 566.5 L133.2 566.4 L134.2 566.3 L135.2 566.1 L136.2 565.8 L137.2 565.3 L138.2 564.7 L139.2 563.8 L140.2 561.5 L141.2 558.5 L142.2 555.8 L143.2 553 L144.2 550.1 L145.2 547.4 L146.2 544.9 L147.2 542.5 L148.2 540.3 L149.2 538.1 L150.2 535.9 L151.2 533.8 L152.2 531.7 L153.2 529.7 L154.2 527.8 L155.2 526 L156.2 524.3 L157.2 522.6 L158.2 521.1 L159.2 519.8 L160.2 518.7 L161.2 517.6 L162.2 516.6 L163.2 515.7 L164.2 514.9 L165.2 514.2 L166.2 513.5 L167.2 512.9 L168.2 512.4 L169.2 511.8 L170.2 511.3 L171.2 510.9 L172.2 510.4 L173.2 510.1 L174.2 509.8 L175.2 509.5 L176.2 509.3 L177.2 509 L178.2 508.8 L179.2 508.6 L180.2 508.4 L181.2 508.2 L182.2 508.1 L183.2 507.9 L184.2 507.8 L185.2 507.6 L186.2 507.5 L187.2 507.4 L188.2 507.3 L189.2 507.2 L190.2 507.1 L191.2 507 L192.2 506.9 L193.2 506.8 L194.2 506.7 L195.2 506.6 L196.2 506.6 L197.2 506.5 L198.2 506.5 L199.2 506.4 L200.2 506.4 L201.2 506.3 L202.2 506.3 L203.2 506.2 L204.2 506.2 L205.2 506.1 L206.2 506.1 L207.2 506.1 L208.2 506 L209.2 506 L210.2 506 L211.2 505.9 L212.2 505.9 L213.2 505.8 L214.2 505.8 L215.2 505.8 L216.2 505.7 L217.2 505.7 L218.2 505.7 L219.2 505.6 L220.2 505.6 L221.2 505.5 L222.2 505.5 L223.2 505.5 L224.2 505.4 L225.2 505.4 L226.2 505.4 L227.2 505.3 L228.2 505.3 L229.2 505.3 L230.2 505.2 L231.2 505.2 L232.2 505.2 L233.2 505.1 L234.2 505.1 L235.2 505 L236.2 505 L237.2 504.9 L238.2 504.9 L239.2 504.8 L240.2 504.8 L241.2 504.7 L242.2 504.7 L243.2 504.6 L244.2 504.5 L245.2 504.4 L246.2 504.4 L247.2 504.3 L248.2 504.2 L249.2 504.1 L250.2 504 L251.2 503.9 L252.2 503.8 L253.2 503.7 L254.2 503.6 L255.2 503.5 L256.2 503.4 L257.2 503.3 L258.2 503.1 L259.2 503 L260.2 502.9 L261.2 502.8 L262.2 502.6 L263.2 502.5 L264.2 502.3 L265.2 502.2 L266.2 502 L267.2 501.8 L268.2 501.7 L269.2 501.5 L270.2 501.3 L271.2 501.2 L272.2 501 L273.2 500.8 L274.2 500.6 L275.2 500.4 L276.2 500.1 L277.2 499.9 L278.2 499.6 L279.2 499.3 L280.2 498.9 L281.2 498.5 L282.2 498.1 L283.2 497.5 L284.2 497 L285.2 496.3 L286.2 495.6 L287.2 494.8 L288.2 493.8 L289.2 492.6 L290.2 491.4 L291.2 490.2 L292.2 488.9 L293.2 487.5 L294.2 486.1 L295.2 484.5 L296.2 482.9 L297.2 481.3 L298.2 479.5 L299.2 477.6 L300.2 475.7 L301.2 474 L302.2 472.2 L303.2 470.6 L304.2 468.9 L305.2 467.3 L306.2 465.8 L307.2 464.3 L308.2 462.8 L309.2 461.4 L310.2 460 L311.2 458.7 L312.2 457.4 L313.2 456.1 L314.2 454.9 L315.2 453.7 L316.2 452.5 L317.2 451.3 L318.2 450.2 L319.2 449.1 L320.2 447.9 L321.2 446.8 L322.2 445.6 L323.2 444.5 L324.2 443.4 L325.2 442.3 L326.2 441.2 L327.2 440.2 L328.2 439.2 L329.2 438.3 L330.2 437.3 L331.2 436.4 L332.2 435.5 L333.2 434.6 L334.2 433.7 L335.2 432.8 L336.2 431.9 L337.2 431 L338.2 430 L339.2 428.9 L340.2 427.8 L341.2 426.6 L342.2 425.4 L343.2 424.2 L344.2 423 L345.2 421.9 L346.2 420.7 L347.2 419.6 L348.2 418.5 L349.2 417.5 L350.2 416.4 L351.2 415.3 L352.2 414.2 L353.2 413.1 L354.2 411.9 L355.2 410.8 L356.2 409.6 L357.2 408.5 L358.2 407.3 L359.2 406.1 L360.2 405 L361.2 403.8 L362.2 402.5 L363.2 401.3 L364.2 400 L365.2 398.8 L366.2 397.6 L367.2 396.5 L368.2 395.4 L369.2 394.3 L370.2 393.3 L371.2 392.3 L372.2 391.3 L373.2 390.3 L374.2 389.4 L375.2 388.5 L376.2 387.6 L377.2 386.7 L378.2 385.9 L379.2 385 L380.2 384.2 L381.2 383.4 L382.2 382.6 L383.2 381.8 L384.2 381 L385.2 380.2 L386.2 379.5 L387.2 378.7 L388.2 377.9 L389.2 377.1 L390.2 376.3 L391.2 375.5 L392.2 374.6 L393.2 373.8 L394.2 372.9 L395.2 372 L396.2 371.1 L397.2 370.2 L398.2 369.3 L399.2 368.5 L400.2 367.6 L401.2 366.7 L402.2 365.8 L403.2 364.9 L404.2 364.1 L405.2 363.2 L406.2 362.3 L407.2 361.4 L408.2 360.5 L409.2 359.6 L410.2 358.8 L411.2 357.8 L412.2 356.9 L413.2 356 L414.2 355.1 L415.2 354.3 L416.2 353.5 L417.2 352.8 L418.2 352 L419.2 351.3 L420.2 350.7 L421.2 350 L422.2 349.4 L423.2 348.8 L424.2 348.3 L425.2 347.8 L426.2 347.4 L427.2 346.9 L428.2 346.5 L429.2 346.2 L430.2 345.8 L431.2 345.5 L432.2 345.1 L433.2 344.8 L434.2 344.5 L435.2 344.1 L436.2 343.8 L437.2 343.5 L438.2 343.2 L439.2 342.9 L440.2 342.6 L441.2 342.3 L442.2 342.1 L443.2 341.9 L444.2 341.6 L445.2 341.4 L446.2 341.1 L447.2 340.9 L448.2 340.7 L449.2 340.5 L450.2 340.3 L451.2 340.1 L452.2 339.9 L453.2 339.8 L454.2 339.7 L455.2 339.6 L456.2 339.5 L457.2 339.5 L458.2 339.4 L459.2 339.4 L460.2 339.3 L461.2 339.3 L462.2 339.2 L463.2 339.2 L464.2 339.1 L465.2 339.1 L466.2 339 L467.2 339 L468.2 338.9 L469.2 338.9 L470.2 338.8 L471.2 338.8 L472.2 338.7 L473.2 338.7 L474.2 338.6 L475.2 338.5 L476.2 338.5 L477.2 338.4 L478.2 338.2 L479.2 338.1 L480.2 338 L481.2 337.8 L482.2 337.6 L483.2 337.4 L484.2 337.3 L485.2 337 L486.2 336.8 L487.2 336.6 L488.2 336.3 L489.2 336 L490.2 335.8 L491.2 335.5 L492.2 335.1 L493.2 334.8 L494.2 334.4 L495.2 334 L496.2 333.6 L497.2 333.2 L498.2 332.8 L499.2 332.4 L500.2 332 L501.2 331.7 L502.2 331.3 L503.2 331 L504.2 330.6 L505.2 330.3 L506.2 330 L507.2 329.7 L508.2 329.4 L509.2 329.1 L510.2 328.9 L511.2 328.6 L512.2 328.4 L513.2 328.2 L514.2 328 L515.2 327.8 L516.2 327.6 L517.2 327.4 L518.2 327.2 L519.2 327 L520.2 326.8 L521.2 326.6 L522.2 326.4 L523.2 326.3 L524.2 326.1 L525.2 325.9 L526.2 325.8 L527.2 325.6 L528.2 325.5 L529.2 325.3 L530.2 325.2 L531.2 325.1 L532.2 325 L533.2 325 L534.2 324.9 L535.2 324.9 L536.2 324.9 L537.2 324.8 L538.2 324.8 L539.2 324.8 L540.2 324.7 L541.2 324.7 L542.2 324.7 L543.2 324.7 L544.2 324.6 L545.2 324.6 L546.2 324.5 L547.2 324.5 L548.2 324.4 L549.2 324.4 L550.2 324.3 L551.2 324.2 L552.2 324.2 L553.2 324.1 L554.2 324 L555.2 323.9 L556.2 323.8 L557.2 323.7 L558.2 323.6 L559.2 323.5 L560.2 323.4 L561.2 323.2 L562.2 323.1 L563.2 322.9 L564.2 322.7 L565.2 322.5 L566.2 322.2 L567.2 322 L568.2 321.7 L569.2 321.4 L570.2 321.1 L571.2 320.9 L572.2 320.5 L573.2 320.2 L574.2 319.9 L575.2 319.5 L576.2 319.2 L577.2 318.8 L578.2 318.4 L579.2 318 L580.2 317.5 L581.2 317.1 L582.2 316.6 L583.2 316.1 L584.2 315.6 L585.2 315 L586.2 314.4 L587.2 313.8 L588.2 313.1 L589.2 312.5 L590.2 311.8 L591.2 311.2 L592.2 310.5 L593.2 309.8 L594.2 309.1 L595.2 308.4 L596.2 307.6 L597.2 306.9 L598.2 306.1 L599.2 305.3 L600.2 304.6 L601.2 303.8 L602.2 303 L603.2 302.2 L604.2 301.4 L605.2 300.6 L606.2 299.8 L607.2 299 L608.2 298.2 L609.2 297.3 L610.2 296.5 L611.2 295.7 L612.2 294.8 L613.2 293.9 L614.2 293 L615.2 292.1 L616.2 291.2 L617.2 290.2 L618.2 289.3 L619.2 288.5 L620.2 287.6 L621.2 286.9 L622.2 286.1 L623.2 285.3 L624.2 284.6 L625.2 283.9 L626.2 283.3 L627.2 282.7 L628.2 282.3 L629.2 281.8 L630.2 281.4 L631.2 281 L632.2 280.6 L633.2 280.2 L634.2 279.8 L635.2 279.5 L636.2 279.1 L637.2 278.8 L638.2 278.4 L639.2 278.1 L640.2 277.7 L641.2 277.4 L642.2 277.1 L643.2 276.8 L644.2 276.4 L645.2 276.1 L646.2 275.8 L647.2 275.5 L648.2 275.1 L649.2 274.8 L650.2 274.5 L651.2 274.1 L652.2 273.8 L653.2 273.5 L654.2 273.2 L655.2 272.9 L656.2 272.5 L657.2 272.2 L658.2 271.9 L659.2 271.6 L660.2 271.3 L661.2 271 L662.2 270.7 L663.2 270.4 L664 270.2 M756.9 250 L757.9 249.8 L758.9 249.7 L759.9 249.5 L760.9 249.4 L761.9 249.3 L762.9 249.1 L763.9 249 L764.9 248.9 L765.9 248.8 L766.9 248.7 L767.9 248.6 L768.9 248.5 L769.9 248.4 L770.9 248.3 L771.9 248.2 L772.9 248.1 L773.9 248 L774.9 247.8 L775.9 247.7 L776.9 247.5 L777.9 247.4 L778.9 247.3 L779.9 247.1 L780.9 247 L781.9 246.8 L782.9 246.7 L783.9 246.5 L784.9 246.3 L785.9 246.2 L786.9 246 L787.9 245.8 L788.9 245.6 L789.9 245.4 L790.9 245.2 L791.9 245 L792.9 244.7 L793.9 244.5 L794.9 244.3 L795.9 244 L796.9 243.8 L797.9 243.6 L798.9 243.4 L799.9 243.2 L800.9 243.1 L801.9 243 L802.9 242.8 L803.9 242.7 L804.9 242.7 L805.9 242.6 L806.9 242.5 L807.9 242.4 L808.9 242.2 L809.9 242.1 L810.9 242 L811.9 241.8 L812.9 241.7 L813.9 241.5 L814.9 241.3 L815.9 241.1 L816.9 241 L817.9 240.8 L818.9 240.5 L819.9 240.3 L820.9 240.1 L821.9 239.9 L822.9 239.6 L823.9 239.4 L824.9 239.1 L825.9 238.9 L826.9 238.6 L827.9 238.2 L828.9 237.9 L829.9 237.5 L830.9 237.2 L831.9 236.8 L832.9 236.4 L833.9 236 L834.9 235.7 L835.9 235.3 L836.9 235 L837.9 234.6 L838.9 234.2 L839.9 233.8 L840.9 233.4 L841.9 233.1 L842.9 232.7 L843.9 232.3 L844.9 232 L845.9 231.7 L846.9 231.4 L847.9 231.2 L848.9 231 L849.9 230.8 L850.9 230.6 L851.9 230.4 L852.9 230.2 L853.9 230 L854.9 229.8 L855.9 229.7 L856.9 229.5 L857.9 229.4 L858.9 229.3 L859.9 229.1 L860.9 229 L861.9 228.9 L862.9 228.8 L863.9 228.7 L864.9 228.6 L865.9 228.5 L866.9 228.5 L867.9 228.4 L868.9 228.3 L869.9 228.2 L870.9 228.1 L871.9 228.1 L872.9 228 L873.9 227.9 L874.9 227.9 L875.9 227.8 L876.9 227.7 L877.9 227.7 L878.9 227.6 L879.9 227.5 L880.9 227.5 L881.9 227.4 L882.9 227.4 L883.9 227.3 L884.9 227.3 L885.9 227.2 L886.9 227.1 L887.9 227.1 L888.9 227 L889.9 227 L890.9 226.9 L891.9 226.9 L892.9 226.8 L893.9 226.8 L894.9 226.7 L895.9 226.7 L896.9 226.6 L897.9 226.6 L898.9 226.5 L899.9 226.5 L900.9 226.4 L901.9 226.4 L902.9 226.3 L903.9 226.3 L904.9 226.3 L905.9 226.2 L906.9 226.2 L907.9 226.1 L908.9 226.1 L909.9 226 L910.9 226 L911.9 225.9 L912.9 225.9" fill="none" stroke="#E7298A" stroke-width="2.95" stroke-linejoin="round"/>
<path d="M118.2 567.3 L119.2 567.3 L120.2 567.3 L121.2 567.2 L122.2 567.2 L123.2 567.1 L124.2 567.1 L125.2 567 L126.2 566.9 L127.2 566.8 L128.2 566.7 L129.2 566.6 L130.2 566.4 L131.2 566.3 L132.2 566.1 L133.2 565.9 L134.2 565.7 L135.2 565.4 L136.2 564.8 L137.2 564.1 L138.2 563.1 L139.2 562.1 L140.2 560.9 L141.2 559.2 L142.2 557.1 L143.2 554.8 L144.2 552.3 L145.2 549.5 L146.2 546.6 L147.2 543.7 L148.2 541.1 L149.2 538.5 L150.2 536 L151.2 533.4 L152.2 530.8 L153.2 528 L154.2 525.3 L155.2 522.8 L156.2 520.5 L157.2 518.5 L158.2 516.6 L159.2 514.8 L160.2 513.1 L161.2 511.4 L162.2 509.8 L163.2 508.2 L164.2 506.7 L165.2 505.2 L166.2 503.9 L167.2 502.6 L168.2 501.3 L169.2 500.1 L170.2 498.9 L171.2 497.9 L172.2 496.9 L173.2 496.1 L174.2 495.3 L175.2 494.6 L176.2 493.9 L177.2 493.2 L178.2 492.6 L179.2 492 L180.2 491.4 L181.2 490.8 L182.2 490.3 L183.2 489.7 L184.2 489.2 L185.2 488.8 L186.2 488.3 L187.2 487.9 L188.2 487.5 L189.2 487.2 L190.2 486.8 L191.2 486.5 L192.2 486.1 L193.2 485.9 L194.2 485.6 L195.2 485.3 L196.2 485.1 L197.2 484.9 L198.2 484.6 L199.2 484.4 L200.2 484.2 L201.2 484.1 L202.2 483.9 L203.2 483.7 L204.2 483.6 L205.2 483.5 L206.2 483.4 L207.2 483.3 L208.2 483.2 L209.2 483.1 L210.2 483.1 L211.2 483 L212.2 482.9 L213.2 482.8 L214.2 482.8 L215.2 482.7 L216.2 482.7 L217.2 482.6 L218.2 482.6 L219.2 482.6 L220.2 482.5 L221.2 482.5 L222.2 482.5 L223.2 482.4 L224.2 482.4 L225.2 482.4 L226.2 482.4 L227.2 482.4 L228.2 482.3 L229.2 482.3 L230.2 482.3 L231.2 482.3 L232.2 482.3 L233.2 482.2 L234.2 482.2 L235.2 482.2 L236.2 482.2 L237.2 482.1 L238.2 482.1 L239.2 482.1 L240.2 482 L241.2 482 L242.2 482 L243.2 481.9 L244.2 481.9 L245.2 481.9 L246.2 481.8 L247.2 481.8 L248.2 481.7 L249.2 481.7 L250.2 481.6 L251.2 481.6 L252.2 481.5 L253.2 481.5 L254.2 481.4 L255.2 481.3 L256.2 481.3 L257.2 481.2 L258.2 481.1 L259.2 481 L260.2 480.9 L261.2 480.8 L262.2 480.7 L263.2 480.6 L264.2 480.5 L265.2 480.4 L266.2 480.2 L267.2 480.1 L268.2 479.9 L269.2 479.7 L270.2 479.5 L271.2 479.2 L272.2 478.9 L273.2 478.7 L274.2 478.4 L275.2 478.1 L276.2 477.7 L277.2 477.4 L278.2 476.9 L279.2 476.5 L280.2 476 L281.2 475.4 L282.2 474.9 L283.2 474.3 L284.2 473.7 L285.2 473 L286.2 472.3 L287.2 471.6 L288.2 470.8 L289.2 469.9 L290.2 469 L291.2 468.1 L292.2 467.1 L293.2 466 L294.2 464.9 L295.2 463.7 L296.2 462.5 L297.2 461.3 L298.2 460 L299.2 458.7 L300.2 457.3 L301.2 455.9 L302.2 454.5 L303.2 453.2 L304.2 451.9 L305.2 450.7 L306.2 449.4 L307.2 448.2 L308.2 446.9 L309.2 445.6 L310.2 444.4 L311.2 443.1 L312.2 441.9 L313.2 440.7 L314.2 439.4 L315.2 438.2 L316.2 437 L317.2 435.9 L318.2 434.7 L319.2 433.5 L320.2 432.2 L321.2 430.9 L322.2 429.4 L323.2 428 L324.2 426.5 L325.2 424.9 L326.2 423.4 L327.2 421.8 L328.2 420.3 L329.2 418.7 L330.2 417 L331.2 415.3 L332.2 413.4 L333.2 411.4 L334.2 409.4 L335.2 407.4 L336.2 405.2 L337.2 402.6 L338.2 399.4 L339.2 395.7 L340.2 391.8 L341.2 388.2 L342.2 384.8 L343.2 381.3 L344.2 377.8 L345.2 374.3 L346.2 370.6 L347.2 366.9 L348.2 363.2 L349.2 359.6 L350.2 355.8 L351.2 352.1 L352.2 348.9 L353.2 346.1 L354.2 343.6 L355.2 341.2 L356.2 339 L357.2 336.9 L358.2 334.8 L359.2 332.9 L360.2 331 L361.2 329.3 L362.2 327.6 L363.2 325.9 L364.2 324.4 L365.2 322.9 L366.2 321.5 L367.2 320.3 L368.2 319.2 L369.2 318.1 L370.2 317.1 L371.2 316.2 L372.2 315.3 L373.2 314.5 L374.2 313.8 L375.2 313.1 L376.2 312.5 L377.2 311.9 L378.2 311.4 L379.2 310.9 L380.2 310.4 L381.2 310.1 L382.2 309.8 L383.2 309.5 L384.2 309.2 L385.2 309 L386.2 308.7 L387.2 308.5 L388.2 308.3 L389.2 308.1 L390.2 308 L391.2 307.8 L392.2 307.7 L393.2 307.5 L394.2 307.4 L395.2 307.3 L396.2 307.2 L397.2 307 L398.2 306.9 L399.2 306.8 L400.2 306.7 L401.2 306.6 L402.2 306.6 L403.2 306.5 L404.2 306.4 L405.2 306.3 L406.2 306.3 L407.2 306.2 L408.2 306.2 L409.2 306.1 L410.2 306 L411.2 306 L412.2 305.9 L413.2 305.9 L414.2 305.8 L415.2 305.8 L416.2 305.7 L417.2 305.7 L418.2 305.7 L419.2 305.6 L420.2 305.6 L421.2 305.5 L422.2 305.5 L423.2 305.5 L424.2 305.4 L425.2 305.4 L426.2 305.4 L427.2 305.4 L428.2 305.3 L429.2 305.3 L430.2 305.3 L431.2 305.3 L432.2 305.3 L433.2 305.2 L434.2 305.2 L435.2 305.2 L436.2 305.2 L437.2 305.2 L438.2 305.2 L439.2 305.2 L440.2 305.1 L441.2 305.1 L442.2 305.1 L443.2 305.1 L444.2 305.1 L445.2 305 L446.2 305 L447.2 305 L448.2 305 L449.2 304.9 L450.2 304.9 L451.2 304.9 L452.2 304.8 L453.2 304.8 L454.2 304.7 L455.2 304.7 L456.2 304.6 L457.2 304.6 L458.2 304.5 L459.2 304.5 L460.2 304.4 L461.2 304.3 L462.2 304.2 L463.2 304.2 L464.2 304.1 L465.2 304 L466.2 303.9 L467.2 303.8 L468.2 303.6 L469.2 303.5 L470.2 303.4 L471.2 303.2 L472.2 303.1 L473.2 302.9 L474.2 302.7 L475.2 302.5 L476.2 302.2 L477.2 302 L478.2 301.7 L479.2 301.4 L480.2 301.1 L481.2 300.9 L482.2 300.6 L483.2 300.3 L484.2 300 L485.2 299.8 L486.2 299.5 L487.2 299.2 L488.2 298.9 L489.2 298.6 L490.2 298.3 L491.2 298 L492.2 297.7 L493.2 297.4 L494.2 297 L495.2 296.7 L496.2 296.3 L497.2 296 L498.2 295.6 L499.2 295.2 L500.2 294.8 L501.2 294.4 L502.2 294 L503.2 293.6 L504.2 293.2 L505.2 292.8 L506.2 292.4 L507.2 292 L508.2 291.6 L509.2 291.2 L510.2 290.7 L511.2 290.3 L512.2 289.9 L513.2 289.5 L514.2 289 L515.2 288.6 L516.2 288.2 L517.2 287.9 L518.2 287.5 L519.2 287.1 L520.2 286.8 L521.2 286.4 L522.2 286.1 L523.2 285.7 L524.2 285.4 L525.2 285.1 L526.2 284.7 L527.2 284.4 L528.2 284 L529.2 283.7 L530.2 283.4 L531.2 283 L532.2 282.7 L533.2 282.4 L534.2 282.1 L535.2 281.7 L536.2 281.4 L537.2 281.1 L538.2 280.7 L539.2 280.3 L540.2 279.9 L541.2 279.5 L542.2 279 L543.2 278.5 L544.2 278 L545.2 277.5 L546.2 276.9 L547.2 276.4 L548.2 275.9 L549.2 275.4 L550.2 274.9 L551.2 274.4 L552.2 273.9 L553.2 273.5 L554.2 273 L555.2 272.6 L556.2 272.2 L557.2 271.8 L558.2 271.3 L559.2 270.9 L560.2 270.6 L561.2 270.2 L562.2 269.8 L563.2 269.5 L564.2 269.2 L565.2 268.9 L566.2 268.6 L567.2 268.4 L568.2 268.1 L569.2 267.8 L570.2 267.5 L571.2 267.3 L572.2 267 L573.2 266.7 L574.2 266.4 L575.2 266.1 L576.2 265.8 L577.2 265.5 L578.2 265.1 L579.2 264.8 L580.2 264.4 L581.2 264 L582.2 263.6 L583.2 263.2 L584.2 262.8 L585.2 262.3 L586.2 261.8 L587.2 261.3 L588.2 260.8 L589.2 260.3 L590.2 259.7 L591.2 259.1 L592.2 258.5 L593.2 257.8 L594.2 257.1 L595.2 256.3 L596.2 255.5 L597.2 254.5 L598.2 253.6 L599.2 252.6 L600.2 251.7 L601.2 250.8 L602.2 249.9 L603.2 249 L604.2 248.1 L605.2 247.2 L606.2 246.3 L607.2 245.5 L608.2 244.7 L609.2 244 L610.2 243.3 L611.2 242.7 L612.2 242.1 L613.2 241.5 L614.2 240.9 L615.2 240.4 L616.2 239.8 L617.2 239.4 L618.2 238.9 L619.2 238.4 L620.2 238 L621.2 237.6 L622.2 237.2 L623.2 236.8 L624.2 236.4 L625.2 236 L626.2 235.6 L627.2 235.3 L628.2 234.9 L629.2 234.6 L630.2 234.3 L631.2 234 L632.2 233.7 L633.2 233.4 L634.2 233.1 L635.2 232.7 L636.2 232.4 L637.2 232.1 L638.2 231.7 L639.2 231.2 L640.2 230.8 L641.2 230.3 L642.2 229.7 L643.2 229.2 L644.2 228.6 L645.2 228 L646.2 227.4 L647.2 226.7 L648.2 226.1 L649.2 225.4 L650.2 224.6 L651.2 223.9 L652.2 223.1 L653.2 222.3 L654.2 221.5 L655.2 220.7 L656.2 219.9 L657.2 219 L658.2 218.1 L659.2 217.2 L660.2 216.3 L661.2 215.4 L662.2 214.5 L663.2 213.7 L664.2 213 L665.2 212.3 L666.2 211.6 L667.2 211 L668.2 210.4 L669.2 209.8 L670.2 209.2 L671.2 208.7 L672.2 208.2 L673.2 207.7 L674.2 207.2 L675.2 206.7 L676.2 206.2 L677.2 205.8 L678.2 205.4 L679.2 205 L680.2 204.6 L681.2 204.2 L682.2 203.8 L683.2 203.5 L684.2 203.2 L685.2 202.8 L686.2 202.5 L687.2 202.2 L688.2 201.9 L689.2 201.6 L690.2 201.3 L691.2 201 L692.2 200.8 L693.2 200.6 L694.2 200.4 L695.2 200.3 L696.2 200.2 L697.2 200.1 L698.2 200 L699.2 199.9 L700.2 199.8 L701.2 199.7 L702.2 199.6 L703.2 199.5 L704.2 199.3 L705.2 199.2 L706.2 199 L707.2 198.9 L708.2 198.7 L709.2 198.5 L710.2 198.3 L711.2 198.1 L712.2 197.8 L713.2 197.6 L714.2 197.3 L715.2 197 L716.2 196.6 L717.2 196.3 L718.2 195.9 L719.2 195.5 L720.2 195.1 L721.2 194.7 L722.2 194.2 L723.2 193.7 L724.2 193.2 L725.2 192.7 L726.2 192.1 L727.2 191.6 L728.2 191.1 L729.2 190.6 L730.2 190.1 L731.2 189.6 L732.2 189 L733.2 188.5 L734.2 188 L735.2 187.5 L736.2 187 L737.2 186.6 L738.2 186.2 L739.2 185.7 L740.2 185.3 L741.2 184.9 L742.2 184.5 L743.2 184 L744.2 183.7 L745.2 183.3 L746.2 182.9 L747.2 182.6 L748.2 182.2 L749.2 181.9 L750.2 181.7 L751.2 181.4 L752.2 181.2 L753.2 181.1 L754.2 180.9 L755.2 180.7 L756.2 180.6 L757.2 180.4 L758.2 180.3 L759.2 180.2 L760.2 180 L761.2 179.9 L762.2 179.8 L763.2 179.7 L764.2 179.5 L765.2 179.4 L766.2 179.2 L767.2 179.1 L768.2 178.9 L769.2 178.8 L770.2 178.6 L771.2 178.4 L772.2 178.3 L773.2 178.1 L774.2 177.9 L775.2 177.8 L776.2 177.6 L777.2 177.4 L778.2 177.2 L779.2 177 L780.2 176.7 L781.2 176.5 L782.2 176.2 L783.1 176 M831.7 161.4 L832.7 161 L833.7 160.7 L834.7 160.2 L835.7 159.8 L836.7 159.3 L837.7 158.9 L838.7 158.4 L839.7 157.9 L840.7 157.4 L841.7 156.9 L842.7 156.4 L843.7 156 L844.7 155.5 L845.7 155.1 L846.7 154.6 L847.7 154.1 L848.7 153.7 L849.7 153.2 L850.7 152.8 L851.7 152.3 L852.7 151.9 L853.7 151.5 L854.7 151.1 L855.7 150.7 L856.7 150.3 L857.7 150 L858.7 149.7 L859.7 149.4 L860.7 149.1 L861.7 148.8 L862.7 148.5 L863.7 148.2 L864.7 147.9 L865.7 147.6 L866.7 147.4 L867.7 147.1 L868.7 146.8 L869.7 146.5 L870.7 146.2 L871.7 145.9 L872.7 145.6 L873.7 145.3 L874.7 145 L875.7 144.7 L876.7 144.4 L877.7 144.1 L878.7 143.8 L879.7 143.6 L880.7 143.2 L881.7 142.9 L882.7 142.6 L883.7 142.3 L884.7 142 L885.7 141.6 L886.7 141.3 L887.7 140.9 L888.7 140.6 L889.7 140.2 L890.7 139.8 L891.7 139.4 L892.7 139 L893.7 138.7 L894.7 138.3 L895.7 137.9 L896.7 137.5 L897.7 137.1 L898.7 136.6 L899.7 136.1 L900.7 135.7 L901.7 135.3 L902.7 134.9 L903.7 134.6 L904.7 134.4 L905.7 134.2 L906.7 134.1 L907.7 133.9 L908.7 133.9 L909.7 133.9 L910.7 133.9 L911.7 133.9 L912.7 133.9 L912.9 133.9" fill="none" stroke="#66A61E" stroke-width="2.95" stroke-linejoin="round"/>
<path d="M118.2 567.3 L119.2 567.3 L120.2 567.3 L121.2 567.2 L122.2 567.1 L123.2 567 L124.2 566.6 L125.2 566 L126.2 565.5 L127.2 565 L128.2 564.3 L129.2 563.6 L130.2 562.7 L131.2 561.4 L132.2 559.8 L133.2 557.9 L134.2 555.8 L135.2 553.1 L136.2 550.2 L137.2 547.4 L138.2 544.7 L139.2 542.1 L140.2 539.6 L141.2 537.1 L142.2 534.7 L143.2 532.3 L144.2 530 L145.2 527.8 L146.2 525.7 L147.2 523.8 L148.2 522 L149.2 520.3 L150.2 518.6 L151.2 517 L152.2 515.4 L153.2 513.8 L154.2 512.2 L155.2 510.6 L156.2 509.2 L157.2 507.7 L158.2 506.4 L159.2 505.1 L160.2 503.9 L161.2 502.8 L162.2 501.7 L163.2 500.7 L164.2 499.7 L165.2 498.8 L166.2 497.9 L167.2 497.1 L168.2 496.3 L169.2 495.7 L170.2 495 L171.2 494.5 L172.2 494 L173.2 493.5 L174.2 493 L175.2 492.6 L176.2 492.2 L177.2 491.7 L178.2 491.3 L179.2 490.9 L180.2 490.5 L181.2 490.2 L182.2 489.8 L183.2 489.5 L184.2 489.2 L185.2 489 L186.2 488.7 L187.2 488.5 L188.2 488.3 L189.2 488.1 L190.2 487.9 L191.2 487.7 L192.2 487.5 L193.2 487.4 L194.2 487.2 L195.2 487.1 L196.2 487 L197.2 486.8 L198.2 486.7 L199.2 486.6 L200.2 486.5 L201.2 486.4 L202.2 486.3 L203.2 486.2 L204.2 486.2 L205.2 486.1 L206.2 486.1 L207.2 486 L208.2 486 L209.2 485.9 L210.2 485.9 L211.2 485.8 L212.2 485.8 L213.2 485.8 L214.2 485.7 L215.2 485.7 L216.2 485.7 L217.2 485.6 L218.2 485.6 L219.2 485.6 L220.2 485.6 L221.2 485.5 L222.2 485.5 L223.2 485.5 L224.2 485.5 L225.2 485.4 L226.2 485.4 L227.2 485.4 L228.2 485.3 L229.2 485.3 L230.2 485.3 L231.2 485.2 L232.2 485.2 L233.2 485.2 L234.2 485.2 L235.2 485.1 L236.2 485.1 L237.2 485.1 L238.2 485.1 L239.2 485 L240.2 485 L241.2 485 L242.2 484.9 L243.2 484.9 L244.2 484.9 L245.2 484.9 L246.2 484.8 L247.2 484.8 L248.2 484.8 L249.2 484.8 L250.2 484.7 L251.2 484.7 L252.2 484.7 L253.2 484.6 L254.2 484.6 L255.2 484.6 L256.2 484.5 L257.2 484.5 L258.2 484.5 L259.2 484.4 L260.2 484.4 L261.2 484.4 L262.2 484.3 L263.2 484.3 L264.2 484.2 L265.2 484.2 L266.2 484.1 L267.2 484.1 L268.2 484 L269.2 484 L270.2 483.9 L271.2 483.8 L272.2 483.7 L273.2 483.6 L274.2 483.5 L275.2 483.4 L276.2 483.2 L277.2 483.1 L278.2 482.9 L279.2 482.7 L280.2 482.6 L281.2 482.3 L282.2 482.1 L283.2 481.7 L284.2 481.3 L285.2 480.9 L286.2 480.5 L287.2 479.9 L288.2 479.3 L289.2 478.6 L290.2 477.8 L291.2 476.8 L292.2 475.8 L293.2 474.7 L294.2 473.3 L295.2 471.8 L296.2 470.1 L297.2 468.4 L298.2 466.6 L299.2 464.6 L300.2 462.6 L301.2 460.4 L302.2 458.3 L303.2 456 L304.2 453.6 L305.2 451.2 L306.2 448.7 L307.2 446.1 L308.2 443.4 L309.2 440.7 L310.2 438.1 L311.2 435.7 L312.2 433.3 L313.2 431 L314.2 428.7 L315.2 426.4 L316.2 424 L317.2 421.7 L318.2 419.5 L319.2 417.3 L320.2 415.2 L321.2 413.1 L322.2 411.1 L323.2 409.2 L324.2 407.3 L325.2 405.5 L326.2 403.7 L327.2 401.9 L328.2 400.2 L329.2 398.6 L330.2 396.9 L331.2 395.3 L332.2 393.8 L333.2 392.2 L334.2 390.8 L335.2 389.3 L336.2 387.9 L337.2 386.4 L338.2 384.9 L339.2 383.4 L340.2 381.8 L341.2 380.2 L342.2 378.6 L343.2 377 L344.2 375.4 L345.2 373.9 L346.2 372.4 L347.2 370.9 L348.2 369.4 L349.2 368 L350.2 366.6 L351.2 365.2 L352.2 363.9 L353.2 362.6 L354.2 361.4 L355.2 360.3 L356.2 359.2 L357.2 358.1 L358.2 357 L359.2 355.9 L360.2 354.8 L361.2 353.7 L362.2 352.5 L363.2 351.4 L364.2 350.3 L365.2 349.2 L366.2 348.1 L367.2 347.1 L368.2 346.1 L369.2 345.1 L370.2 344.1 L371.2 343.2 L372.2 342.2 L373.2 341.3 L374.2 340.3 L375.2 339.3 L376.2 338.4 L377.2 337.5 L378.2 336.5 L379.2 335.6 L380.2 334.6 L381.2 333.6 L382.2 332.6 L383.2 331.5 L384.2 330.4 L385.2 329.3 L386.2 328 L387.2 326.7 L388.2 325.3 L389.2 324 L390.2 322.6 L391.2 321.2 L392.2 319.8 L393.2 318.4 L394.2 317 L395.2 315.5 L396.2 314.1 L397.2 312.5 L398.2 310.9 L399.2 309.4 L400.2 307.8 L401.2 306.2 L402.2 304.7 L403.2 303.3 L404.2 301.9 L405.2 300.5 L406.2 299.1 L407.2 297.8 L408.2 296.5 L409.2 295.3 L410.2 294.2 L411.2 293.1 L412.2 292.1 L413.2 291.1 L414.2 290.1 L415.2 289.2 L416.2 288.3 L417.2 287.4 L418.2 286.6 L419.2 285.7 L420.2 284.9 L421.2 284.1 L422.2 283.4 L423.2 282.6 L424.2 281.9 L425.2 281.3 L426.2 280.7 L427.2 280.1 L428.2 279.6 L429.2 279.1 L430.2 278.6 L431.2 278.1 L432.2 277.6 L433.2 277.2 L434.2 276.8 L435.2 276.5 L436.2 276.1 L437.2 275.8 L438.2 275.5 L439.2 275.2 L440.2 274.9 L441.2 274.6 L442.2 274.3 L443.2 274.1 L444.2 273.9 L445.2 273.7 L446.2 273.6 L447.2 273.4 L448.2 273.3 L449.2 273.1 L450.2 273 L451.2 272.9 L452.2 272.7 L453.2 272.6 L454.2 272.5 L455.2 272.4 L456.2 272.3 L457.2 272.2 L458.2 272.1 L459.2 272 L460.2 271.9 L461.2 271.8 L462.2 271.8 L463.2 271.7 L464.2 271.7 L465.2 271.6 L466.2 271.6 L467.2 271.5 L468.2 271.5 L469.2 271.5 L470.2 271.4 L471.2 271.4 L472.2 271.3 L473.2 271.3 L474.2 271.2 L475.2 271.1 L476.2 271.1 L477.2 271 L478.2 270.9 L479.2 270.8 L480.2 270.7 L481.2 270.6 L482.2 270.5 L483.2 270.4 L484.2 270.3 L485.2 270.2 L486.2 270.1 L487.2 270 L488.2 269.9 L489.2 269.7 L490.2 269.6 L491.2 269.4 L492.2 269.2 L493.2 269 L494.2 268.8 L495.2 268.6 L496.2 268.4 L497.2 268.1 L498.2 267.9 L499.2 267.7 L500.2 267.5 L501.2 267.2 L502.2 267 L503.2 266.8 L504.2 266.6 L505.2 266.5 L506.2 266.3 L507.2 266.1 L508.2 265.9 L509.2 265.7 L510.2 265.5 L511.2 265.3 L512.2 265.1 L513.2 264.9 L514.2 264.8 L515.2 264.6 L516.2 264.4 L517.2 264.3 L518.2 264.1 L519.2 264 L520.2 263.8 L521.2 263.7 L522.2 263.6 L523.2 263.4 L524.2 263.3 L525.2 263.2 L526.2 263 L527.2 262.9 L528.2 262.8 L529.2 262.7 L530.2 262.5 L531.2 262.4 L532.2 262.3 L533.2 262.2 L534.2 262.1 L535.2 262 L536.2 261.9 L537.2 261.8 L538.2 261.8 L539.2 261.7 L540.2 261.6 L541.2 261.5 L542.2 261.4 L543.2 261.3 L544.2 261.2 L545.2 261.1 L546.2 260.9 L547.2 260.8 L548.2 260.7 L549.2 260.5 L550.2 260.4 L551.2 260.2 L552.2 260 L553.2 259.9 L554.2 259.7 L555.2 259.5 L556.2 259.3 L557.2 259.1 L558.2 258.9 L559.2 258.8 L560.2 258.6 L561.2 258.4 L562.2 258.2 L563.2 258 L564.2 257.7 L565.2 257.5 L566.2 257.3 L567.2 257.1 L568.2 256.8 L569.2 256.6 L570.2 256.4 L571.2 256.1 L572.2 255.9 L573.2 255.6 L574.2 255.3 L575.2 255.1 L576.2 254.8 L577.2 254.5 L578.2 254.1 L579.2 253.8 L580.2 253.4 L581.2 253 L582.2 252.5 L583.2 252 L584.2 251.5 L585.2 251 L586.2 250.5 L587.2 249.9 L588.2 249.4 L589.2 248.8 L590.2 248.3 L591.2 247.7 L592.2 247 L593.2 246.3 L594.2 245.6 L595.2 244.8 L596.2 243.8 L597.2 242.9 L598.2 241.8 L599.2 240.7 L600.2 239.6 L601.2 238.4 L602.2 237.1 L603.2 235.7 L604.2 234.4 L605.2 233.1 L606.2 231.8 L607.2 230.5 L608.2 229.2 L609.2 227.9 L610.2 226.6 L611.2 225.3 L612.2 224.1 L613.2 222.9 L614.2 221.7 L615.2 220.6 L616.2 219.5 L617.2 218.4 L618.2 217.4 L619.2 216.4 L620.2 215.4 L621.2 214.4 L622.2 213.5 L623.2 212.6 L624.2 211.8 L625.2 211 L626.2 210.2 L627.2 209.6 L628.2 208.9 L629.2 208.3 L630.2 207.7 L631.2 207.2 L632.2 206.6 L633.2 206.1 L634.2 205.6 L635.2 205 L636.2 204.6 L637.2 204.1 L638.2 203.6 L639.2 203.2 L640.2 202.7 L641.2 202.3 L642.2 201.9 L643.2 201.4 L644.2 201 L645.2 200.5 L646.2 200.1 L647.2 199.6 L648.2 199.1 L649.2 198.7 L650.2 198.2 L651.2 197.7 L652.2 197.3 L653.2 196.8 L654.2 196.3 L655.2 195.9 L656.2 195.4 L657.2 195 L658.2 194.5 L659.2 194.1 L660.2 193.6 L661.2 193.2 L662.2 192.7 L663.2 192.3 L664.2 191.9 L665.2 191.4 L666.2 191 L667.2 190.6 L668.2 190.2 L669.2 189.8 L670.2 189.3 L671.2 188.9 L672.2 188.5 L673.2 188.1 L674.2 187.7 L675.2 187.3 L676.2 186.9 L677.2 186.6 L678.2 186.2 L679.2 185.9 L679.7 185.7 M739.7 166.4 L740.7 165.9 L741.7 165.4 L742.7 165 L743.7 164.5 L744.7 164 L745.7 163.6 L746.7 163.1 L747.7 162.7 L748.7 162.3 L749.7 161.9 L750.7 161.6 L751.7 161.3 L752.7 161 L753.7 160.8 L754.7 160.5 L755.7 160.3 L756.7 160 L757.7 159.8 L758.7 159.6 L759.7 159.4 L760.7 159.2 L761.7 159 L762.7 158.8 L763.7 158.6 L764.7 158.5 L765.7 158.3 L766.7 158.1 L767.7 158 L768.7 157.9 L769.7 157.7 L770.7 157.6 L771.7 157.5 L772.7 157.4 L773.7 157.3 L774.7 157.1 L775.7 157 L776.7 156.9 L777.7 156.8 L778.7 156.6 L779.7 156.4 L780.7 156.3 L781.7 156.1 L782.7 155.9 L783.7 155.7 L784.7 155.5 L785.7 155.3 L786.7 155 L787.7 154.8 L788.7 154.6 L789.7 154.3 L790.7 154.1 L791.7 153.8 L792.7 153.6 L793.7 153.3 L794.7 153.1 L795.7 152.8 L796.7 152.6 L797.7 152.3 L798.7 152.1 L799.7 151.8 L800.7 151.5 L801.7 151.2 L802.7 151 L803.7 150.7 L804.7 150.4 L805.7 150.1 L806.7 149.8 L807.7 149.6 L808.7 149.3 L809.7 149 L810.7 148.7 L811.7 148.4 L812.7 148.2 L813.7 147.9 L814.7 147.6 L815.7 147.3 L816.7 147 L817.7 146.7 L818.7 146.4 L819.7 146.1 L820.7 145.8 L821.7 145.4 L822.7 145.1 L823.7 144.8 L824.7 144.4 L825.7 144.1 L826.7 143.7 L827.7 143.4 L828.7 143.1 L829.7 142.7 L830.7 142.4 L831.7 142.1 L832.7 141.7 L833.7 141.4 L834.7 141.1 L835.7 140.7 L836.7 140.4 L837.7 140.1 L838.7 139.8 L839.7 139.4 L840.7 139.1 L841.7 138.8 L842.7 138.5 L843.7 138.1 L844.7 137.8 L845.7 137.5 L846.7 137.1 L847.7 136.8 L848.7 136.5 L849.7 136.1 L850.7 135.8 L851.7 135.5 L852.7 135.2 L853.7 135 L854.7 134.7 L855.7 134.5 L856.7 134.3 L857.7 134.1 L858.7 133.9 L859.7 133.7 L860.7 133.5 L861.7 133.4 L862.7 133.2 L863.7 133 L864.7 132.9 L865.7 132.7 L866.7 132.6 L867.7 132.4 L868.7 132.3 L869.7 132.1 L870.7 132 L871.7 131.9 L872.7 131.7 L873.7 131.6 L874.7 131.5 L875.7 131.3 L876.7 131.2 L877.7 131.1 L878.7 131 L879.7 130.9 L880.7 130.8 L881.7 130.7 L882.7 130.6 L883.7 130.5 L884.7 130.4 L885.7 130.3 L886.7 130.2 L887.7 130.1 L888.7 130 L889.7 129.9 L890.7 129.8 L891.7 129.8 L892.7 129.7 L893.7 129.6 L894.7 129.6 L895.7 129.5 L896.7 129.4 L897.7 129.4 L898.7 129.3 L899.7 129.2 L900.7 129.2 L901.7 129.1 L902.7 129.1 L903.7 129 L904.7 129 L905.7 128.9 L906.7 128.9 L907.7 128.8 L908.7 128.8 L909.7 128.7 L910.7 128.7 L911.7 128.6 L912.7 128.6 L912.9 128.6" fill="none" stroke="#E6AB02" stroke-width="2.95" stroke-linejoin="round"/>
<path d="M118.2 567.3 L119.2 567.3 L120.2 567.3 L121.2 567.3 L122.2 567.3 L123.2 567.3 L124.2 567.3 L125.2 567.3 L126.2 567.2 L127.2 567.2 L128.2 567.2 L129.2 567.2 L130.2 567.2 L131.2 567.2 L132.2 567.1 L133.2 567.1 L134.2 567.1 L135.2 567 L136.2 567 L137.2 566.9 L138.2 566.6 L139.2 566.3 L140.2 565.9 L141.2 565.4 L142.2 564.7 L143.2 563.8 L144.2 562.8 L145.2 561.7 L146.2 560.6 L147.2 559.4 L148.2 558.2 L149.2 557.1 L150.2 555.9 L151.2 554.7 L152.2 553.6 L153.2 552.5 L154.2 551.4 L155.2 550.2 L156.2 549 L157.2 547.7 L158.2 546.3 L159.2 545 L160.2 543.7 L161.2 542.4 L162.2 541.1 L163.2 539.9 L164.2 538.6 L165.2 537.4 L166.2 536.3 L167.2 535.2 L168.2 534.2 L169.2 533.1 L170.2 532.2 L171.2 531.3 L172.2 530.4 L173.2 529.6 L174.2 528.8 L175.2 528 L176.2 527.3 L177.2 526.6 L178.2 525.9 L179.2 525.2 L180.2 524.6 L181.2 524 L182.2 523.5 L183.2 522.9 L184.2 522.4 L185.2 521.9 L186.2 521.4 L187.2 521 L188.2 520.5 L189.2 520.1 L190.2 519.6 L191.2 519.2 L192.2 518.8 L193.2 518.3 L194.2 517.9 L195.2 517.5 L196.2 517.2 L197.2 516.8 L198.2 516.4 L199.2 516 L200.2 515.6 L201.2 515.2 L202.2 514.8 L203.2 514.4 L204.2 514.1 L205.2 513.7 L206.2 513.3 L207.2 512.9 L208.2 512.5 L209.2 512.1 L210.2 511.6 L211.2 511.1 L212.2 510.6 L213.2 510.1 L214.2 509.6 L215.2 509 L216.2 508.5 L217.2 507.9 L218.2 507.3 L219.2 506.6 L220.2 505.9 L221.2 505.2 L222.2 504.4 L223.2 503.6 L224.2 502.8 L225.2 502 L226.2 501.2 L227.2 500.5 L228.2 499.8 L229.2 499.1 L230.2 498.5 L231.2 497.8 L232.2 497.1 L233.2 496.5 L234.2 495.8 L235.2 495.2 L236.2 494.6 L237.2 494 L238.2 493.4 L239.2 492.9 L240.2 492.4 L241.2 491.9 L242.2 491.4 L243.2 490.9 L244.2 490.5 L245.2 490 L246.2 489.6 L247.2 489.1 L248.2 488.6 L249.2 488.1 L250.2 487.5 L251.2 487 L252.2 486.4 L253.2 485.8 L254.2 485.2 L255.2 484.6 L256.2 484.1 L257.2 483.5 L258.2 483 L259.2 482.6 L260.2 482.1 L261.2 481.6 L262.2 481.1 L263.2 480.7 L264.2 480.2 L265.2 479.8 L266.2 479.3 L267.2 478.9 L268.2 478.5 L269.2 478 L270.2 477.6 L271.2 477.2 L272.2 476.8 L273.2 476.4 L274.2 476 L275.2 475.6 L276.2 475.2 L277.2 474.8 L278.2 474.4 L279.2 474 L280.2 473.5 L281.2 473.1 L282.2 472.6 L283.2 472.1 L284.2 471.7 L285.2 471.2 L286.2 470.7 L287.2 470.2 L288.2 469.6 L289.2 469.1 L290.2 468.5 L291.2 467.9 L292.2 467.2 L293.2 466.5 L294.2 465.8 L295.2 465.1 L296.2 464.3 L297.2 463.5 L298.2 462.7 L299.2 461.9 L300.2 461 L301.2 460.1 L302.2 459.1 L303.2 458.2 L304.2 457.2 L305.2 456.2 L306.2 455.2 L307.2 454.2 L308.2 453.1 L309.2 452.1 L310.2 450.9 L311.2 449.7 L312.2 448.5 L313.2 447.1 L314.2 445.7 L315.2 444.3 L316.2 442.8 L317.2 441.3 L318.2 439.9 L319.2 438.5 L320.2 437.1 L321.2 435.7 L322.2 434.3 L323.2 433 L324.2 431.6 L325.2 430.2 L326.2 428.8 L327.2 427.4 L328.2 425.9 L329.2 424.5 L330.2 423 L331.2 421.5 L332.2 420 L333.2 418.4 L334.2 416.9 L335.2 415.3 L336.2 413.7 L337.2 412.1 L338.2 410.4 L339.2 408.7 L340.2 407.1 L341.2 405.4 L342.2 403.6 L343.2 401.8 L344.2 400 L345.2 398.1 L346.2 396.1 L347.2 394.1 L348.2 392.1 L349.2 390 L350.2 388 L351.2 386 L352.2 383.9 L353.2 381.8 L354.2 379.8 L355.2 377.9 L356.2 376 L357.2 374.1 L358.2 372.3 L359.2 370.6 L360.2 368.8 L361.2 367.1 L362.2 365.4 L363.2 363.8 L364.2 362.2 L365.2 360.7 L366.2 359.4 L367.2 358.2 L368.2 357 L369.2 355.8 L370.2 354.6 L371.2 353.4 L372.2 352.2 L373.2 351.1 L374.2 349.9 L375.2 348.8 L376.2 347.8 L377.2 346.9 L378.2 346.1 L379.2 345.3 L380.2 344.6 L381.2 343.9 L382.2 343.2 L383.2 342.6 L384.2 341.9 L385.2 341.3 L386.2 340.7 L387.2 340.1 L388.2 339.5 L389.2 338.9 L390.2 338.3 L391.2 337.7 L392.2 337.2 L393.2 336.6 L394.2 336.1 L395.2 335.5 L396.2 334.9 L397.2 334.3 L398.2 333.7 L399.2 333 L400.2 332.4 L401.2 331.8 L402.2 331.3 L403.2 330.7 L404.2 330.2 L405.2 329.8 L406.2 329.4 L407.2 329 L408.2 328.6 L409.2 328.3 L410.2 327.9 L411.2 327.6 L412.2 327.3 L413.2 326.9 L414.2 326.6 L415.2 326.3 L416.2 326 L417.2 325.7 L418.2 325.4 L419.2 325.1 L420.2 324.8 L421.2 324.5 L422.2 324.2 L423.2 323.9 L424.2 323.6 L425.2 323.4 L426.2 323.1 L427.2 322.8 L428.2 322.6 L429.2 322.3 L430.2 322 L431.2 321.8 L432.2 321.6 L433.2 321.3 L434.2 321.1 L435.2 320.9 L436.2 320.7 L437.2 320.5 L438.2 320.3 L439.2 320.1 L440.2 319.9 L441.2 319.7 L442.2 319.5 L443.2 319.3 L444.2 319.1 L445.2 319 L446.2 318.8 L447.2 318.6 L448.2 318.4 L449.2 318.2 L450.2 318 L451.2 317.9 L452.2 317.7 L453.2 317.5 L454.2 317.3 L455.2 317.2 L456.2 317 L457.2 316.8 L458.2 316.6 L459.2 316.5 L460.2 316.3 L461.2 316.1 L462.2 316 L463.2 315.8 L464.2 315.7 L465.2 315.5 L466.2 315.4 L467.2 315.2 L468.2 315.1 L469.2 314.9 L470.2 314.7 L471.2 314.5 L472.2 314.3 L473.2 314.1 L474.2 313.9 L475.2 313.7 L476.2 313.5 L477.2 313.2 L478.2 312.9 L479.2 312.7 L480.2 312.4 L481.2 312.1 L482.2 311.7 L483.2 311.4 L484.2 311 L485.2 310.6 L486.2 310.1 L487.2 309.7 L488.2 309.2 L489.2 308.6 L490.2 308.1 L491.2 307.5 L492.2 306.9 L493.2 306.2 L494.2 305.5 L495.2 304.7 L496.2 303.8 L497.2 303 L498.2 302.1 L499.2 301.2 L500.2 300.3 L501.2 299.5 L502.2 298.6 L503.2 297.7 L504.2 296.8 L505.2 295.9 L506.2 294.9 L507.2 294 L508.2 293 L509.2 292 L510.2 291 L511.2 289.9 L512.2 288.8 L513.2 287.7 L514.2 286.5 L515.2 285.3 L516.2 284.1 L517.2 283 L518.2 281.8 L519.2 280.7 L520.2 279.6 L521.2 278.5 L522.2 277.4 L523.2 276.3 L524.2 275.3 L525.2 274.2 L526.2 273.1 L527.2 272.1 L528.2 271.1 L529.2 270 L530.2 269 L531.2 268 L532.2 267 L533.2 266 L534.2 265.1 L535.2 264.1 L536.2 263.2 L537.2 262.3 L538.2 261.5 L539.2 260.6 L540.2 259.7 L541.2 258.9 L542.2 258.1 L543.2 257.3 L544.2 256.5 L545.2 255.8 L546.2 255.1 L547.2 254.5 L548.2 253.8 L549.2 253.2 L550.2 252.5 L551.2 251.9 L552.2 251.2 L553.2 250.5 L554.2 249.8 L555.2 249 L556.2 248.2 L557.2 247.4 L558.2 246.7 L559.2 245.9 L560.2 245.2 L561.2 244.5 L562.2 243.9 L563.2 243.2 L564.2 242.7 L565.2 242.1 L566.2 241.5 L567.2 241 L568.2 240.4 L569.2 239.8 L570.2 239.2 L571.2 238.5 L572.2 237.9 L573.2 237.2 L574.2 236.6 L575.2 235.9 L576.2 235.2 L577.2 234.4 L578.2 233.6 L579.2 232.7 L580.2 231.7 L581.2 230.6 L582.2 229.5 L583.2 228.4 L584.2 227.3 L585.2 226.3 L586.2 225.5 L587.2 224.7 L588.2 224 L589.2 223.3 L590.2 222.6 L591.2 221.7 L592.2 220.8 L593.2 219.8 L594.2 218.7 L595.2 217.6 L596.2 216.2 L597.2 214.8 L598.2 213.2 L599.2 211.6 L600.2 210 L601.2 208.4 L602.2 206.7 L603.2 205.1 L604.2 203.4 L605.2 201.7 L606.2 199.9 L607.2 198.1 L608.2 196.3 L609.2 194.4 L610.2 192.6 L611.2 190.8 L612.2 188.9 L613.2 187.1 L614.2 185.4 L615.2 183.9 L616.2 182.5 L617.2 181.3 L618.2 180 L619.2 178.9 L620.2 177.8 L621.2 176.7 L622.2 175.7 L623.2 174.7 L624.2 173.8 L625.2 172.8 L626.2 171.9 L627.2 170.9 L628.2 170 L629.2 169.2 L630.2 168.3 L631.2 167.5 L632.2 166.6 L633.2 165.8 L634.2 165.1 L635.2 164.7 L636.2 164.5 L637.2 164.4 L638.2 164.2 L639.2 163.9 L640.2 163.6 L641.2 163.1 L642.2 162.5 L643.2 161.9 L644.2 161.4 L645.2 160.9 L646.2 160.5 L647.2 160.1 L648.2 159.8 L649.2 159.4 L650.2 159.1 L651.2 158.7 L652.2 158.4 L653.2 158.1 L654.2 157.8 L655.2 157.4 L656.2 157.1 L657.2 156.8 L658.2 156.5 L659.2 156.2 L660.2 155.9 L661.2 155.7 L662.2 155.4 L663.2 155.2 L664.2 154.9 L665.2 154.7 L666.2 154.4 L667.2 154.2 L668.2 154 L669.2 153.7 L670.2 153.5 L671.2 153.3 L672.2 153.1 L673.2 152.8 L674.2 152.6 L675.2 152.4 L676.2 152.2 L677.2 152 L678.2 151.8 L679.2 151.6 L680.2 151.4 L681.2 151.2 L682.2 151 L683.2 150.8 L684.2 150.6 L685.2 150.4 L686.2 150.2 L687.2 150 L688.2 149.8 L689.2 149.6 L690.2 149.4 L691.2 149.2 L692.2 148.9 L693.2 148.7 L694.2 148.5 L695.2 148.3 L696.2 148.1 L697.2 147.9 L698.2 147.7 L699.2 147.5 L700.2 147.3 L701.2 147 L702.2 146.8 L703.2 146.6 L704.2 146.4 L705.2 146.2 L706.2 145.9 L707.2 145.7 L708.2 145.5 L709.2 145.3 L710.2 145 L711.2 144.8 L712.2 144.6 L713.2 144.3 L714.2 144.1 L715.2 143.9 L716.2 143.7 L717.2 143.4 L718.2 143.2 L719.2 143 L720.2 142.7 L721.2 142.5 L722.2 142.3 L723.2 142 L724.2 141.8 L725.2 141.6 L726.2 141.3 L727.2 141.1 L728.2 140.9 L729.2 140.7 L730.2 140.5 L731.2 140.2 L732.2 140 L733.2 139.8 L734.2 139.5 L735.2 139.3 L736.2 139.1 L737.2 138.9 L738.2 138.6 L739.2 138.4 L740.2 138.1 L741.2 137.9 L742.2 137.6 L743.2 137.4 L744.2 137.1 L745.2 136.9 L746.2 136.6 L747.2 136.3 L748.2 136 L749.2 135.7 L750.2 135.4 L751.2 135.1 L752.2 134.8 L753.2 134.5 L754.2 134.2 L755.2 133.8 L756.2 133.5 L757.2 133.2 L758.2 132.9 L759.2 132.6 L760.2 132.3 L761.2 132 L762.2 131.7 L763.2 131.4 L764.2 131.1 L765.2 130.8 L766.2 130.6 L767.2 130.3 L768.2 130.1 L769.2 129.8 L770.2 129.6 L771.2 129.3 L772.2 129.1 L773.2 128.8 L774.2 128.6 L775.2 128.4 L776.2 128.1 L777.2 127.9 L778.2 127.7 L779.2 127.5 L780.2 127.2 L781.2 127 L782.2 126.8 L783.2 126.6 L784.2 126.3 L785.2 126.1 L786.2 125.9 L787.2 125.7 L788.2 125.5 L789.2 125.2 L790.2 125 L791.2 124.8 L792.2 124.5 L793.2 124.3 L794.2 124.1 L795.2 123.9 L796.2 123.6 L797.2 123.4 L798.2 123.2 L799.2 123 L800.2 122.8 L801.2 122.5 L802.2 122.3 L803.2 122.1 L804.2 121.9 L805.2 121.7 L806.2 121.5 L807.2 121.4 L808.2 121.2 L809.2 121 L810.2 120.8 L811.2 120.7 L812.2 120.5 L813.2 120.4 L814.2 120.2 L815.2 120.1 L816.2 120 L817.2 119.8 L818.2 119.7 L819.2 119.6 L820.2 119.4 L821.2 119.3 L822.2 119.1 L823.2 118.9 L824.2 118.8 L825 118.6 M873.6 105.2 L874.6 105 L875.6 104.7 L876.6 104.5 L877.6 104.3 L878.6 104 L879.6 103.8 L880.6 103.6 L881.6 103.4 L882.6 103.1 L883.6 102.9 L884.6 102.7 L885.6 102.5 L886.6 102.3 L887.6 102.1 L888.6 101.9 L889.6 101.8 L890.6 101.6 L891.6 101.4 L892.6 101.3 L893.6 101.1 L894.6 100.9 L895.6 100.8 L896.6 100.6 L897.6 100.5 L898.6 100.3 L899.6 100.2 L900.6 100 L901.6 99.9 L902.6 99.8 L903.6 99.8 L904.6 99.7 L905.6 99.6 L906.6 99.6 L907.6 99.5 L908.6 99.4 L909.6 99.4 L910.6 99.4 L911.6 99.3 L912.6 99.3 L912.9 99.3" fill="none" stroke="#A6761D" stroke-width="2.95" stroke-linejoin="round"/>
<defs><path id="lpJapan" d="M484.4 550.3 L486.4 550.2 L488.4 550.2 L490.4 550.2 L492.4 550.1 L494.4 550 L496.4 549.8 L498.4 549.7 L500.4 549.5 L502.4 549.2 L504.4 549 L506.4 548.7 L508.4 548.5 L510.4 548.2 L512.4 548 L514.4 547.8 L516.4 547.6 L518.4 547.4 L520.4 547.3 L522.4 547.2 L524.4 547.1 L526.4 547 L528.4 546.9 L530.4 546.9 L532.4 546.8 L534.4 546.8 L536.4 546.8 L538.4 546.7 L540.4 546.7 L542.4 546.7 L544.4 546.7 L546.4 546.7 L548.4 546.7 L550.4 546.7 L552.4 546.7 L554.4 546.7 L556.4 546.7 L558.4 546.7 L560.4 546.7 L562.4 546.7 L564.4 546.7 L566.4 546.7 L568.4 546.7 L570.4 546.7 L572.4 546.7 L574.4 546.7 L576.4 546.7 L578.4 546.7 L580.4 546.7"/><path id="lpCanada" d="M542.8 462.6 L544.8 462.3 L546.8 462.1 L548.8 461.8 L550.8 461.5 L552.8 461.2 L554.8 460.9 L556.8 460.6 L558.8 460.2 L560.8 459.8 L562.8 459.4 L564.8 459 L566.8 458.6 L568.8 458.1 L570.8 457.6 L572.8 457.1 L574.8 456.6 L576.8 456 L578.8 455.4 L580.8 454.9 L582.8 454.3 L584.8 453.6 L586.8 453 L588.8 452.4 L590.8 451.8 L592.8 451.1 L594.8 450.5 L596.8 449.9 L598.8 449.2 L600.8 448.6 L602.8 447.9 L604.8 447.2 L606.8 446.4 L608.8 445.7 L610.8 444.9 L612.8 444.1 L614.8 443.2 L616.8 442.3 L618.8 441.4 L620.8 440.5 L622.8 439.5 L624.8 438.4 L626.8 437.2 L628.8 436.1 L630.8 435 L632.8 434.1 L634.8 433.3 L636.8 432.6 L638.8 431.9 L640.8 431.4 L642.8 430.8 L644.8 430.3 L646.8 429.8 L648.8 429.2 L650.8 428.7 L652.8 428.3"/><path id="lpGermany" d="M587.5 371 L589.5 370.5 L591.5 369.8 L593.5 369.1 L595.5 368.4 L597.5 367.6 L599.5 366.9 L601.5 366.1 L603.5 365.4 L605.5 364.6 L607.5 363.8 L609.5 363 L611.5 362.2 L613.5 361.4 L615.5 360.5 L617.5 359.6 L619.5 358.7 L621.5 357.7 L623.5 356.7 L625.5 355.6 L627.5 354.5 L629.5 353.3 L631.5 352 L633.5 350.8 L635.5 349.6 L637.5 348.5 L639.5 347.5 L641.5 346.4 L643.5 345.3 L645.5 344.3 L647.5 343.3 L649.5 342.3 L651.5 341.4 L653.5 340.5 L655.5 339.7 L657.5 338.8 L659.5 338.1 L661.5 337.3 L663.5 336.6 L665.5 335.9 L667.5 335.2 L669.5 334.6 L671.5 334 L673.5 333.5 L675.5 332.9 L677.5 332.4 L679.5 332 L681.5 331.6 L683.5 331.1 L685.5 330.8 L687.5 330.4 L689.5 330 L691.5 329.7 L693.5 329.4 L695.5 329.2 L697.5 329 L699.5 328.8 L701.5 328.6 L703.5 328.4 L705.5 328.1 L707.5 327.8 L709.5 327.5 L711.5 327.1"/><path id="lpFrance" d="M670.5 268.2 L672.5 267.5 L674.5 266.9 L676.5 266.4 L678.5 265.8 L680.5 265.3 L682.5 264.8 L684.5 264.3 L686.5 263.8 L688.5 263.3 L690.5 262.9 L692.5 262.5 L694.5 262 L696.5 261.6 L698.5 261.2 L700.5 260.8 L702.5 260.4 L704.5 260.1 L706.5 259.7 L708.5 259.4 L710.5 259.1 L712.5 258.8 L714.5 258.5 L716.5 258.2 L718.5 257.9 L720.5 257.6 L722.5 257.4 L724.5 257.2 L726.5 257 L728.5 256.8 L730.5 256.6 L732.5 256.3 L734.5 256.1 L736.5 255.8 L738.5 255.4 L740.5 255 L742.5 254.6 L744.5 254.1 L746.5 253.6 L748.5 252.9 L750.5 252.1 L752.5 251.3 L754.5 250.6 L756.5 250.1 L758.5 249.7 L760.5 249.4 L762.5 249.2 L764.5 249 L766.5 248.8 L768.5 248.6 L770.5 248.4 L772.5 248.1 L774.5 247.9 L776.5 247.6"/><path id="lpUK" d="M789.3 174.2 L791.3 173.6 L793.3 172.9 L795.3 172.3 L797.3 171.7 L799.3 171 L801.3 170.4 L803.3 169.7 L805.3 169.1 L807.3 168.4 L809.3 167.8 L811.3 167.2 L813.3 166.6 L815.3 166 L817.3 165.4 L819.3 164.8 L821.3 164.2 L823.3 163.7 L825.3 163.2 L827.3 162.7 L829.3 162.2 L831.3 161.5 L833.3 160.8 L835.3 160 L837.3 159.1 L839.3 158.1 L841.3 157.1 L843.3 156.2 L845.3 155.2 L847.3 154.3 L849.3 153.4 L851.3 152.5"/><path id="lpItaly" d="M687.8 183.3 L689.8 182.7 L691.8 182.2 L693.8 181.7 L695.8 181.1 L697.8 180.6 L699.8 180.1 L701.8 179.6 L703.8 179.1 L705.8 178.6 L707.8 178.1 L709.8 177.6 L711.8 177.1 L713.8 176.6 L715.8 176.1 L717.8 175.6 L719.8 175 L721.8 174.4 L723.8 173.7 L725.8 173.1 L727.8 172.4 L729.8 171.6 L731.8 170.7 L733.8 169.6 L735.8 168.5 L737.8 167.4 L739.8 166.4 L741.8 165.4 L743.8 164.4 L745.8 163.5 L747.8 162.7 L749.8 161.9 L751.8 161.3 L753.8 160.7 L755.8 160.2 L757.8 159.8"/><path id="lpUS" d="M831.3 117.1 L833.3 116.5 L835.3 115.9 L837.3 115.3 L839.3 114.7 L841.3 114.1 L843.3 113.6 L845.3 113 L847.3 112.4 L849.3 111.8 L851.3 111.2 L853.3 110.6 L855.3 110 L857.3 109.5 L859.3 108.9 L861.3 108.4 L863.3 107.8 L865.3 107.3 L867.3 106.8 L869.3 106.3 L871.3 105.8 L873.3 105.3 L875.3 104.8 L877.3 104.3 L879.3 103.9 L881.3 103.4 L883.3 103 L885.3 102.6 L887.3 102.2 L889.3 101.8 L891.3 101.5 L893.3 101.1"/></defs>
<text font-size="25.5" fill="#1B9E77" stroke="#1B9E77" stroke-width="0.12"><textPath href="#lpJapan"><tspan dy="9.3">Japan</tspan></textPath></text>
<text font-size="25.35" fill="#D95F02" stroke="#D95F02" stroke-width="0.12"><textPath href="#lpCanada"><tspan dy="9.3">Canada</tspan></textPath></text>
<text font-size="25.9" fill="#7570B3" stroke="#7570B3" stroke-width="0.12"><textPath href="#lpGermany"><tspan dy="9.3">Germany</tspan></textPath></text>
<text font-size="25.9" fill="#E7298A" stroke="#E7298A" stroke-width="0.12"><textPath href="#lpFrance"><tspan dy="9.3">France</tspan></textPath></text>
<text font-size="25.8" fill="#66A61E" stroke="#66A61E" stroke-width="0.12"><textPath href="#lpUK"><tspan dy="8.6">UK</tspan></textPath></text>
<text font-size="25.8" fill="#E6AB02" stroke="#E6AB02" stroke-width="0.12"><textPath href="#lpItaly"><tspan dy="9.5">Italy</tspan></textPath></text>
<text font-size="26" fill="#A6761D" stroke="#A6761D" stroke-width="0.12"><textPath href="#lpUS"><tspan dy="10.3">US</tspan></textPath></text>
<text transform="translate(66.4 576.3) scale(1 1.01)" font-size="23.1" text-anchor="end" fill="#000" stroke="#000" stroke-width="0.12">0</text>
<text transform="translate(66.4 436.5) scale(1 1.01)" font-size="23.1" text-anchor="end" fill="#000" stroke="#000" stroke-width="0.12">100</text>
<text transform="translate(66.4 296.7) scale(1 1.01)" font-size="23.1" text-anchor="end" fill="#000" stroke="#000" stroke-width="0.12">200</text>
<text transform="translate(66.4 156.9) scale(1 1.01)" font-size="23.1" text-anchor="end" fill="#000" stroke="#000" stroke-width="0.12">300</text>
<text transform="translate(204 599.3) scale(1 1.01)" font-size="23.1" text-anchor="middle" fill="#000" stroke="#000" stroke-width="0.12">Jul</text>
<text transform="translate(204 624) scale(1 1.01)" font-size="23.1" text-anchor="middle" fill="#000" stroke="#000" stroke-width="0.12">2020</text>
<text transform="translate(332.5 599.3) scale(1 1.01)" font-size="23.1" text-anchor="middle" fill="#000" stroke="#000" stroke-width="0.12">Jan</text>
<text transform="translate(332.5 624) scale(1 1.01)" font-size="23.1" text-anchor="middle" fill="#000" stroke="#000" stroke-width="0.12">2021</text>
<text transform="translate(459.3 606) scale(1 1.01)" font-size="23.1" text-anchor="middle" fill="#000" stroke="#000" stroke-width="0.12">Jul</text>
<text transform="translate(587.4 599.3) scale(1 1.01)" font-size="23.1" text-anchor="middle" fill="#000" stroke="#000" stroke-width="0.12">Jan</text>
<text transform="translate(587.4 624) scale(1 1.01)" font-size="23.1" text-anchor="middle" fill="#000" stroke="#000" stroke-width="0.12">2022</text>
<text transform="translate(714.3 606) scale(1 1.01)" font-size="23.1" text-anchor="middle" fill="#000" stroke="#000" stroke-width="0.12">Jul</text>
<text transform="translate(843 599.3) scale(1 1.01)" font-size="23.1" text-anchor="middle" fill="#000" stroke="#000" stroke-width="0.12">Jan</text>
<text transform="translate(843 624) scale(1 1.01)" font-size="23.1" text-anchor="middle" fill="#000" stroke="#000" stroke-width="0.12">2023</text>
<text transform="translate(489.6 42.6) scale(1 1.065)" font-size="29.11" text-anchor="middle" fill="#000" stroke="#000" stroke-width="0.12" font-weight="bold">G7: Cumulative COVID-19 deaths per capita</text>
<text transform="translate(490.4 78.6) scale(1 1.04)" font-size="25.31" text-anchor="middle" fill="#000" stroke="#000" stroke-width="0.12">Since start of pandemic (per 100,000 people)</text>
<text transform="translate(27.3 654) scale(1 1.04)" font-size="17.63" text-anchor="start" fill="#4d4d4d" stroke="#4d4d4d" stroke-width="0.12">Source: WHO; WPP. Updated: 2023-04-11. Latest: pandem-ic.com</text>
<text transform="translate(27.2 673.2) scale(1 1.04)" font-size="17.52" text-anchor="start" fill="#4d4d4d" stroke="#4d4d4d" stroke-width="0.12">Note: The latest observation for the US is 6x higher than that of Japan.</text>
</svg>
</body></html>
